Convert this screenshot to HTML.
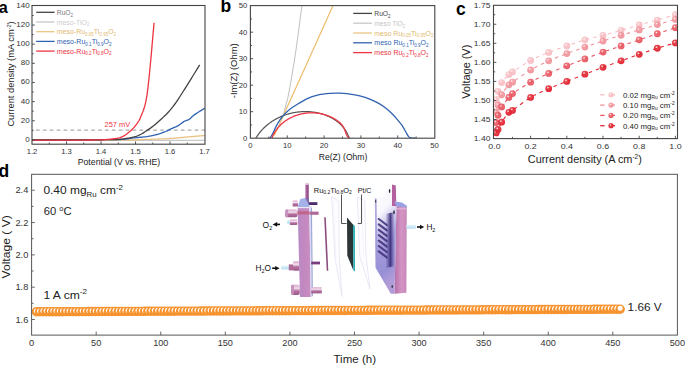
<!DOCTYPE html>
<html><head><meta charset="utf-8"><style>
html,body{margin:0;padding:0;background:#fff;width:685px;height:366px;overflow:hidden}
svg{display:block}
text{font-family:"Liberation Sans", sans-serif}
</style></head><body>
<svg width="685" height="366" viewBox="0 0 685 366">
<rect width="685" height="366" fill="#fff"/>
<text x="-1.2" y="12.8" font-size="16.2" fill="#000" text-anchor="start" font-weight="bold" >a</text>
<line x1="32" y1="130.1" x2="205" y2="130.1" stroke="#aaa" stroke-width="1.3" stroke-dasharray="3.6 3.3" stroke-dashoffset="2.9"/>
<path d="M32.00,140.30 L33.45,140.30 L34.91,140.30 L36.36,140.30 L37.82,140.30 L39.27,140.30 L40.72,140.30 L42.18,140.30 L43.63,140.30 L45.08,140.30 L46.54,140.30 L47.99,140.30 L49.45,140.30 L50.90,140.30 L52.35,140.30 L53.81,140.30 L55.26,140.30 L56.71,140.30 L58.17,140.30 L59.62,140.30 L61.08,140.30 L62.53,140.30 L63.98,140.30 L65.44,140.30 L66.89,140.30 L68.34,140.30 L69.80,140.30 L71.25,140.30 L72.71,140.30 L74.16,140.30 L75.61,140.30 L77.07,140.30 L78.52,140.30 L79.97,140.30 L81.43,140.30 L82.88,140.30 L84.34,140.30 L85.79,140.30 L87.24,140.30 L88.70,140.30 L90.15,140.30 L91.61,140.30 L93.06,140.30 L94.51,140.30 L95.97,140.30 L97.42,140.30 L98.87,140.30 L100.33,140.30 L101.78,140.30 L103.24,140.30 L104.69,140.30 L106.14,140.30 L107.60,140.30 L109.05,140.30 L110.50,140.30 L111.96,140.30 L113.41,140.30 L114.87,140.30 L116.32,140.30 L117.77,140.30 L119.23,140.30 L120.68,140.30 L122.13,140.30 L123.59,140.30 L125.04,140.30 L126.50,140.30 L127.95,140.30 L129.40,140.30 L130.86,140.30 L132.31,140.30 L133.76,140.30 L135.22,140.30 L136.67,140.30 L138.13,140.30 L139.58,140.30 L141.03,140.30 L142.49,140.30 L143.94,140.30 L145.39,140.30 L146.85,140.30 L148.30,140.30 L149.76,140.30 L151.21,140.30 L152.66,140.30 L154.12,140.30 L155.57,140.30 L157.03,140.30 L158.48,140.30 L159.93,140.30 L161.39,140.30 L162.84,140.30 L164.29,140.30 L165.75,140.30 L167.20,140.30 L168.66,140.30 L170.11,140.30 L171.56,140.30 L173.02,140.30 L174.47,140.30 L175.92,140.30 L177.38,140.30 L178.83,140.30 L180.29,140.30 L181.74,140.30 L183.19,140.30 L184.65,140.30 L186.10,140.30 L187.55,140.30 L189.01,140.30 L190.46,140.30 L191.92,140.30 L193.37,140.30 L194.82,140.30 L196.28,140.30 L197.73,140.30 L199.18,140.30 L200.64,140.30 L202.09,140.30 L203.55,140.30 L205.00,140.30" fill="none" stroke="#c8c8c8" stroke-width="1.3"/>
<path d="M32.00,140.20 L33.45,140.20 L34.90,140.20 L36.36,140.20 L37.81,140.20 L39.26,140.20 L40.71,140.20 L42.16,140.20 L43.62,140.20 L45.07,140.20 L46.52,140.20 L47.97,140.20 L49.43,140.20 L50.88,140.20 L52.33,140.20 L53.78,140.20 L55.23,140.20 L56.69,140.20 L58.14,140.20 L59.59,140.20 L61.04,140.20 L62.49,140.20 L63.95,140.19 L65.40,140.19 L66.85,140.19 L68.30,140.19 L69.75,140.19 L71.21,140.19 L72.66,140.19 L74.11,140.19 L75.56,140.19 L77.02,140.19 L78.47,140.19 L79.92,140.19 L81.37,140.18 L82.82,140.18 L84.28,140.18 L85.73,140.18 L87.18,140.18 L88.63,140.18 L90.08,140.18 L91.54,140.17 L92.99,140.17 L94.44,140.17 L95.89,140.17 L97.34,140.17 L98.80,140.16 L100.25,140.16 L101.70,140.16 L103.15,140.16 L104.61,140.16 L106.06,140.15 L107.51,140.15 L108.96,140.15 L110.41,140.15 L111.87,140.14 L113.32,140.14 L114.77,140.14 L116.22,140.13 L117.67,140.13 L119.13,140.13 L120.58,140.12 L122.03,140.12 L123.48,140.12 L124.93,140.11 L126.39,140.11 L127.84,140.11 L129.29,140.10 L130.74,140.08 L132.19,140.00 L133.65,139.89 L135.10,139.80 L136.55,139.73 L138.00,139.67 L139.46,139.61 L140.91,139.56 L142.36,139.51 L143.81,139.46 L145.26,139.42 L146.72,139.37 L148.17,139.33 L149.62,139.28 L151.07,139.24 L152.52,139.19 L153.98,139.14 L155.43,139.08 L156.88,139.03 L158.33,138.98 L159.78,138.93 L161.24,138.88 L162.69,138.83 L164.14,138.78 L165.59,138.72 L167.05,138.65 L168.50,138.58 L169.95,138.50 L171.40,138.41 L172.85,138.29 L174.31,138.15 L175.76,138.01 L177.21,137.87 L178.66,137.74 L180.11,137.62 L181.57,137.49 L183.02,137.37 L184.47,137.24 L185.92,137.11 L187.37,136.99 L188.83,136.86 L190.28,136.74 L191.73,136.61 L193.18,136.49 L194.64,136.36 L196.09,136.24 L197.54,136.12 L198.99,135.99 L200.44,135.87 L201.90,135.75 L203.35,135.62 L204.80,135.50" fill="none" stroke="#eac486" stroke-width="1.3"/>
<path d="M32.00,140.00 L33.45,140.00 L34.90,140.00 L36.36,140.00 L37.81,140.00 L39.26,140.00 L40.71,140.00 L42.16,140.00 L43.62,139.99 L45.07,139.99 L46.52,139.99 L47.97,139.99 L49.43,139.99 L50.88,139.98 L52.33,139.98 L53.78,139.98 L55.23,139.98 L56.69,139.97 L58.14,139.97 L59.59,139.97 L61.04,139.96 L62.49,139.96 L63.95,139.95 L65.40,139.95 L66.85,139.94 L68.30,139.94 L69.75,139.93 L71.21,139.92 L72.66,139.92 L74.11,139.91 L75.56,139.90 L77.02,139.90 L78.47,139.89 L79.92,139.88 L81.37,139.87 L82.82,139.86 L84.28,139.85 L85.73,139.84 L87.18,139.83 L88.63,139.82 L90.08,139.81 L91.54,139.80 L92.99,139.79 L94.44,139.78 L95.89,139.77 L97.34,139.75 L98.80,139.74 L100.25,139.73 L101.70,139.71 L103.15,139.70 L104.61,139.68 L106.06,139.67 L107.51,139.65 L108.96,139.64 L110.41,139.62 L111.87,139.60 L113.32,139.59 L114.77,139.57 L116.22,139.55 L117.67,139.53 L119.13,139.51 L120.58,139.49 L122.03,139.42 L123.48,139.31 L124.93,139.15 L126.39,138.98 L127.84,138.78 L129.29,138.57 L130.74,138.35 L132.19,138.15 L133.65,137.96 L135.10,137.79 L136.55,137.64 L138.00,137.51 L139.46,137.38 L140.91,137.25 L142.36,137.11 L143.81,136.95 L145.26,136.78 L146.72,136.59 L148.17,136.36 L149.62,136.11 L151.07,135.83 L152.52,135.53 L153.98,135.21 L155.43,134.87 L156.88,134.50 L158.33,134.11 L159.78,133.67 L161.24,133.18 L162.69,132.65 L164.14,132.09 L165.59,131.50 L167.05,130.82 L168.50,130.06 L169.95,129.32 L171.40,128.67 L172.85,128.07 L174.31,127.47 L175.76,126.85 L177.21,126.15 L178.66,125.33 L180.11,124.31 L181.57,123.21 L183.02,122.14 L184.47,121.21 L185.92,120.56 L187.37,120.13 L188.83,119.63 L190.28,118.60 L191.73,117.04 L193.18,115.66 L194.64,114.60 L196.09,113.66 L197.54,112.75 L198.99,111.82 L200.44,110.89 L201.90,109.98 L203.35,109.08 L204.80,108.20" fill="none" stroke="#2f62b0" stroke-width="1.3"/>
<path d="M32.00,140.00 L33.41,140.00 L34.82,140.00 L36.23,140.00 L37.64,140.00 L39.05,140.00 L40.46,140.00 L41.86,140.00 L43.27,140.00 L44.68,139.99 L46.09,139.99 L47.50,139.99 L48.91,139.99 L50.32,139.99 L51.73,139.99 L53.14,139.98 L54.55,139.98 L55.96,139.98 L57.37,139.97 L58.78,139.97 L60.18,139.97 L61.59,139.96 L63.00,139.96 L64.41,139.96 L65.82,139.95 L67.23,139.95 L68.64,139.94 L70.05,139.94 L71.46,139.93 L72.87,139.93 L74.28,139.92 L75.69,139.91 L77.10,139.91 L78.51,139.90 L79.91,139.89 L81.32,139.89 L82.73,139.88 L84.14,139.87 L85.55,139.86 L86.96,139.85 L88.37,139.84 L89.78,139.83 L91.19,139.82 L92.60,139.81 L94.01,139.80 L95.42,139.79 L96.83,139.78 L98.23,139.77 L99.64,139.76 L101.05,139.74 L102.46,139.73 L103.87,139.72 L105.28,139.71 L106.69,139.69 L108.10,139.68 L109.51,139.66 L110.92,139.65 L112.33,139.63 L113.74,139.61 L115.15,139.60 L116.55,139.55 L117.96,139.47 L119.37,139.36 L120.78,139.21 L122.19,139.04 L123.60,138.86 L125.01,138.66 L126.42,138.46 L127.83,138.25 L129.24,138.02 L130.65,137.76 L132.06,137.45 L133.47,137.11 L134.87,136.74 L136.28,136.29 L137.69,135.76 L139.10,135.16 L140.51,134.49 L141.92,133.74 L143.33,132.88 L144.74,131.96 L146.15,131.04 L147.56,130.11 L148.97,129.14 L150.38,128.15 L151.79,127.11 L153.19,126.03 L154.60,124.91 L156.01,123.75 L157.42,122.55 L158.83,121.31 L160.24,120.02 L161.65,118.71 L163.06,117.38 L164.47,116.05 L165.88,114.68 L167.29,113.25 L168.70,111.71 L170.11,110.08 L171.52,108.36 L172.92,106.58 L174.33,104.74 L175.74,102.81 L177.15,100.80 L178.56,98.70 L179.97,96.49 L181.38,94.25 L182.79,92.02 L184.20,89.80 L185.61,87.56 L187.02,85.32 L188.43,83.07 L189.84,80.82 L191.24,78.55 L192.65,76.28 L194.06,74.00 L195.47,71.72 L196.88,69.42 L198.29,67.11 L199.70,64.80" fill="none" stroke="#444" stroke-width="1.3"/>
<path d="M32.00,140.20 L33.03,140.20 L34.05,140.20 L35.08,140.20 L36.10,140.20 L37.13,140.20 L38.16,140.20 L39.18,140.20 L40.21,140.20 L41.23,140.20 L42.26,140.20 L43.29,140.19 L44.31,140.19 L45.34,140.19 L46.36,140.19 L47.39,140.19 L48.42,140.19 L49.44,140.19 L50.47,140.18 L51.49,140.18 L52.52,140.18 L53.55,140.18 L54.57,140.18 L55.60,140.17 L56.63,140.17 L57.65,140.17 L58.68,140.16 L59.70,140.16 L60.73,140.16 L61.76,140.15 L62.78,140.15 L63.81,140.15 L64.83,140.14 L65.86,140.14 L66.89,140.14 L67.91,140.13 L68.94,140.13 L69.96,140.12 L70.99,140.12 L72.02,140.11 L73.04,140.11 L74.07,140.10 L75.09,140.10 L76.12,140.09 L77.15,140.08 L78.17,140.08 L79.20,140.07 L80.22,140.07 L81.25,140.06 L82.28,140.05 L83.30,140.05 L84.33,140.04 L85.35,140.03 L86.38,140.02 L87.41,140.01 L88.43,140.01 L89.46,140.00 L90.48,139.99 L91.51,139.98 L92.54,139.97 L93.56,139.96 L94.59,139.95 L95.62,139.94 L96.64,139.93 L97.67,139.92 L98.69,139.91 L99.72,139.90 L100.75,139.89 L101.77,139.86 L102.80,139.81 L103.82,139.75 L104.85,139.69 L105.88,139.61 L106.90,139.52 L107.93,139.42 L108.95,139.32 L109.98,139.22 L111.01,139.11 L112.03,139.00 L113.06,138.88 L114.08,138.75 L115.11,138.60 L116.14,138.43 L117.16,138.25 L118.19,138.04 L119.21,137.80 L120.24,137.53 L121.27,137.17 L122.29,136.71 L123.32,136.17 L124.34,135.59 L125.37,134.97 L126.40,134.25 L127.42,133.44 L128.45,132.59 L129.47,131.74 L130.50,130.91 L131.53,130.04 L132.55,129.05 L133.58,127.94 L134.61,126.74 L135.63,125.45 L136.66,124.09 L137.68,122.65 L138.71,121.04 L139.74,119.14 L140.76,116.79 L141.79,114.32 L142.81,111.88 L143.84,109.08 L144.87,105.61 L145.89,101.31 L146.92,95.63 L147.94,87.81 L148.97,78.37 L150.00,68.04 L151.02,57.43 L152.05,45.64 L153.07,33.82 L154.10,22.70" fill="none" stroke="#ee3440" stroke-width="1.3"/>
<text x="104.6" y="127.3" font-size="7.4" fill="#ee3440" text-anchor="start" font-weight="normal" textLength="25.6" lengthAdjust="spacingAndGlyphs" >257 mV</text>
<rect x="32" y="5.5" width="173" height="138.7" fill="none" stroke="#444" stroke-width="1.1"/>
<line x1="32" y1="139.90" x2="34.8" y2="139.90" stroke="#444" stroke-width="0.9"/>
<line x1="32" y1="130.33" x2="33.7" y2="130.33" stroke="#444" stroke-width="0.9"/>
<line x1="32" y1="120.76" x2="34.8" y2="120.76" stroke="#444" stroke-width="0.9"/>
<line x1="32" y1="111.19" x2="33.7" y2="111.19" stroke="#444" stroke-width="0.9"/>
<line x1="32" y1="101.62" x2="34.8" y2="101.62" stroke="#444" stroke-width="0.9"/>
<line x1="32" y1="92.05" x2="33.7" y2="92.05" stroke="#444" stroke-width="0.9"/>
<line x1="32" y1="82.48" x2="34.8" y2="82.48" stroke="#444" stroke-width="0.9"/>
<line x1="32" y1="72.91" x2="33.7" y2="72.91" stroke="#444" stroke-width="0.9"/>
<line x1="32" y1="63.34" x2="34.8" y2="63.34" stroke="#444" stroke-width="0.9"/>
<line x1="32" y1="53.77" x2="33.7" y2="53.77" stroke="#444" stroke-width="0.9"/>
<line x1="32" y1="44.20" x2="34.8" y2="44.20" stroke="#444" stroke-width="0.9"/>
<line x1="32" y1="34.63" x2="33.7" y2="34.63" stroke="#444" stroke-width="0.9"/>
<line x1="32" y1="25.06" x2="34.8" y2="25.06" stroke="#444" stroke-width="0.9"/>
<line x1="32" y1="15.49" x2="33.7" y2="15.49" stroke="#444" stroke-width="0.9"/>
<text x="29.6" y="141.8" font-size="8" fill="#333" text-anchor="end" font-weight="normal" >0</text>
<text x="29.6" y="122.66000000000001" font-size="8" fill="#333" text-anchor="end" font-weight="normal" >20</text>
<text x="29.6" y="103.52000000000001" font-size="8" fill="#333" text-anchor="end" font-weight="normal" >40</text>
<text x="29.6" y="84.38000000000002" font-size="8" fill="#333" text-anchor="end" font-weight="normal" >60</text>
<text x="29.6" y="65.24000000000001" font-size="8" fill="#333" text-anchor="end" font-weight="normal" >80</text>
<text x="29.6" y="46.1" font-size="8" fill="#333" text-anchor="end" font-weight="normal" >100</text>
<text x="29.6" y="26.960000000000015" font-size="8" fill="#333" text-anchor="end" font-weight="normal" >120</text>
<text x="29.6" y="7.820000000000016" font-size="8" fill="#333" text-anchor="end" font-weight="normal" >140</text>
<line x1="49.25" y1="144.2" x2="49.25" y2="142.5" stroke="#444" stroke-width="0.9"/>
<line x1="66.50" y1="144.2" x2="66.50" y2="141.39999999999998" stroke="#444" stroke-width="0.9"/>
<line x1="83.75" y1="144.2" x2="83.75" y2="142.5" stroke="#444" stroke-width="0.9"/>
<line x1="101.00" y1="144.2" x2="101.00" y2="141.39999999999998" stroke="#444" stroke-width="0.9"/>
<line x1="118.25" y1="144.2" x2="118.25" y2="142.5" stroke="#444" stroke-width="0.9"/>
<line x1="135.50" y1="144.2" x2="135.50" y2="141.39999999999998" stroke="#444" stroke-width="0.9"/>
<line x1="152.75" y1="144.2" x2="152.75" y2="142.5" stroke="#444" stroke-width="0.9"/>
<line x1="170.00" y1="144.2" x2="170.00" y2="141.39999999999998" stroke="#444" stroke-width="0.9"/>
<line x1="187.25" y1="144.2" x2="187.25" y2="142.5" stroke="#444" stroke-width="0.9"/>
<text x="32.0" y="153.8" font-size="7.6" fill="#333" text-anchor="middle" font-weight="normal" textLength="10.6" lengthAdjust="spacingAndGlyphs" >1.2</text>
<text x="66.50000000000003" y="153.8" font-size="7.6" fill="#333" text-anchor="middle" font-weight="normal" textLength="10.6" lengthAdjust="spacingAndGlyphs" >1.3</text>
<text x="100.99999999999999" y="153.8" font-size="7.6" fill="#333" text-anchor="middle" font-weight="normal" textLength="10.6" lengthAdjust="spacingAndGlyphs" >1.4</text>
<text x="135.5" y="153.8" font-size="7.6" fill="#333" text-anchor="middle" font-weight="normal" textLength="10.6" lengthAdjust="spacingAndGlyphs" >1.5</text>
<text x="170.00000000000006" y="153.8" font-size="7.6" fill="#333" text-anchor="middle" font-weight="normal" textLength="10.6" lengthAdjust="spacingAndGlyphs" >1.6</text>
<text x="204.5" y="153.8" font-size="7.6" fill="#333" text-anchor="middle" font-weight="normal" textLength="10.6" lengthAdjust="spacingAndGlyphs" >1.7</text>
<text x="77.7" y="164.7" font-size="9.2" fill="#222" text-anchor="start" font-weight="normal" textLength="82.5" lengthAdjust="spacingAndGlyphs" >Potential (V vs. RHE)</text>
<g transform="translate(14.2,126.6) rotate(-90)"><text x="0" y="0" font-size="9.7" fill="#222" text-anchor="start" font-weight="normal" textLength="105.3" lengthAdjust="spacingAndGlyphs" >Current density (mA cm<tspan dy="-3.5" font-size="5.8">-2</tspan><tspan dy="3.5">)</tspan></text></g>
<line x1="36.2" y1="12.30" x2="54.6" y2="12.30" stroke="#444" stroke-width="1.3"/>
<text x="56.8" y="14.8" font-size="7.4" fill="#7a7a7a" text-anchor="start" font-weight="normal" textLength="16.3" lengthAdjust="spacingAndGlyphs" >RuO<tspan dy="1.8" font-size="5">2</tspan></text>
<line x1="36.2" y1="22.00" x2="54.6" y2="22.00" stroke="#c8c8c8" stroke-width="1.3"/>
<text x="56.8" y="24.5" font-size="7.4" fill="#cdcdcd" text-anchor="start" font-weight="normal" textLength="32.6" lengthAdjust="spacingAndGlyphs" >meso-TiO<tspan dy="1.8" font-size="5">2</tspan></text>
<line x1="36.2" y1="31.70" x2="54.6" y2="31.70" stroke="#eac486" stroke-width="1.3"/>
<text x="56.8" y="34.2" font-size="7.4" fill="#e2b96f" text-anchor="start" font-weight="normal" textLength="59.3" lengthAdjust="spacingAndGlyphs" >meso-Ru<tspan dy="1.8" font-size="4.8">0.05</tspan><tspan dy="-1.8">Ti</tspan><tspan dy="1.8" font-size="4.8">0.95</tspan><tspan dy="-1.8">O</tspan><tspan dy="1.8" font-size="4.8">2</tspan></text>
<line x1="36.2" y1="41.40" x2="54.6" y2="41.40" stroke="#2f62b0" stroke-width="1.3"/>
<text x="56.8" y="43.9" font-size="7.4" fill="#2f62b0" text-anchor="start" font-weight="normal" textLength="54.8" lengthAdjust="spacingAndGlyphs" >meso-Ru<tspan dy="1.8" font-size="4.8">0.1</tspan><tspan dy="-1.8">Ti</tspan><tspan dy="1.8" font-size="4.8">0.9</tspan><tspan dy="-1.8">O</tspan><tspan dy="1.8" font-size="4.8">2</tspan></text>
<line x1="36.2" y1="51.10" x2="54.6" y2="51.10" stroke="#ee3440" stroke-width="1.3"/>
<text x="56.8" y="53.599999999999994" font-size="7.4" fill="#ee3440" text-anchor="start" font-weight="normal" textLength="54.8" lengthAdjust="spacingAndGlyphs" >meso-Ru<tspan dy="1.8" font-size="4.8">0.2</tspan><tspan dy="-1.8">Ti</tspan><tspan dy="1.8" font-size="4.8">0.8</tspan><tspan dy="-1.8">O</tspan><tspan dy="1.8" font-size="4.8">2</tspan></text>
<text x="220.5" y="12.3" font-size="17.5" fill="#000" text-anchor="start" font-weight="bold" >b</text>
<defs><clipPath id="cb"><rect x="250.4" y="5.6" width="184.4" height="132.6"/></clipPath></defs>
<g clip-path="url(#cb)">
<path d="M283.50,115.30 C283.90,113.58 285.08,108.38 285.90,105.00 C286.72,101.62 287.38,100.00 288.40,95.00 C289.42,90.00 290.73,82.50 292.00,75.00 C293.27,67.50 294.33,61.67 296.00,50.00 C297.67,38.33 301.00,12.50 302.00,5.00" fill="none" stroke="#c4c4c4" stroke-width="1.1"/>
<path d="M274.2,135.6 C275.5,132.5 276.3,130.8 277.3,129.4 L283.5,115.3 L333.3,5" fill="none" stroke="#efbc6c" stroke-width="1.2"/>
<path d="M255.80,138.30 L256.20,137.64 L256.61,136.98 L257.03,136.33 L257.45,135.69 L257.89,135.05 L258.34,134.42 L258.79,133.81 L259.25,133.19 L259.73,132.59 L260.21,132.00 L260.70,131.41 L261.19,130.83 L261.70,130.26 L262.21,129.69 L262.74,129.14 L263.27,128.59 L263.80,128.05 L264.35,127.52 L264.90,127.00 L265.46,126.48 L266.03,125.98 L266.60,125.48 L267.19,124.99 L267.77,124.51 L268.37,124.03 L268.97,123.57 L269.58,123.11 L270.19,122.66 L270.82,122.22 L271.44,121.79 L272.08,121.37 L272.71,120.96 L273.36,120.55 L274.01,120.15 L274.67,119.77 L275.33,119.39 L275.99,119.01 L276.67,118.65 L277.34,118.30 L278.02,117.95 L278.71,117.62 L279.40,117.29 L280.10,116.97 L280.80,116.66 L281.50,116.36 L282.21,116.07 L282.92,115.78 L283.64,115.51 L284.36,115.25 L285.08,114.99 L285.81,114.74 L286.54,114.50 L287.27,114.28 L288.01,114.06 L288.75,113.84 L289.49,113.64 L290.24,113.45 L290.98,113.27 L291.73,113.09 L292.49,112.93 L293.24,112.77 L294.00,112.63 L294.76,112.49 L295.52,112.36 L296.28,112.25 L297.05,112.14 L297.81,112.04 L298.58,111.95 L299.35,111.87 L300.12,111.80 L300.89,111.74 L301.66,111.69 L302.43,111.65 L303.20,111.62 L303.98,111.59 L304.75,111.58 L305.52,111.58 L306.30,111.59 L307.07,111.60 L307.85,111.63 L308.62,111.67 L309.39,111.71 L310.17,111.77 L310.94,111.84 L311.71,111.91 L312.48,112.00 L313.25,112.10 L314.02,112.20 L314.78,112.32 L315.55,112.45 L316.31,112.58 L317.07,112.73 L317.83,112.89 L318.59,113.06 L319.34,113.23 L320.09,113.42 L320.83,113.62 L321.58,113.83 L322.32,114.04 L323.05,114.27 L323.78,114.51 L324.51,114.76 L325.23,115.02 L325.95,115.29 L326.66,115.57 L327.36,115.86 L328.06,116.16 L328.76,116.47 L329.45,116.79 L330.13,117.12 L330.80,117.46 L331.47,117.81 L332.13,118.18 L332.79,118.55 L333.43,118.93 L334.07,119.33 L334.70,119.73 L335.32,120.15 L335.94,120.57 L336.54,121.01 L337.14,121.45 L337.72,121.91 L338.30,122.38 L338.87,122.86 L339.43,123.35 L339.97,123.85 L340.51,124.36 L341.04,124.88 L341.55,125.41 L342.06,125.95 L342.55,126.50 L343.03,127.07 L343.50,127.64 L343.96,128.22 L344.40,128.82 L344.84,129.43 L345.26,130.04 L345.66,130.67 L346.06,131.31 L346.44,131.96 L346.81,132.62 L347.16,133.29 L347.50,133.97 L347.82,134.67 L348.13,135.37 L348.43,136.09 L348.71,136.81 L348.97,137.55 L349.22,138.30" fill="none" stroke="#555" stroke-width="1.2"/>
<path d="M269.90,138.30 C270.15,137.92 270.88,136.87 271.40,136.00 C271.92,135.13 272.22,134.70 273.00,133.10 C273.78,131.50 274.97,128.55 276.10,126.40 C277.23,124.25 278.57,122.05 279.80,120.20 C281.03,118.35 282.07,116.93 283.50,115.30 C284.93,113.67 286.48,111.98 288.40,110.40 C290.32,108.82 291.95,107.73 295.00,105.80 C298.05,103.87 302.80,100.62 306.70,98.80 C310.60,96.98 314.52,95.80 318.40,94.90 C322.28,94.00 326.40,93.68 330.00,93.40 C333.60,93.12 336.10,93.00 340.00,93.20 C343.90,93.40 349.22,93.92 353.40,94.60 C357.58,95.28 361.27,96.03 365.10,97.30 C368.93,98.57 373.08,100.50 376.40,102.20 C379.72,103.90 382.30,105.50 385.00,107.50 C387.70,109.50 390.43,112.07 392.60,114.20 C394.77,116.33 396.45,118.47 398.00,120.30 C399.55,122.13 400.80,123.62 401.90,125.20 C403.00,126.78 403.82,128.43 404.60,129.80 C405.38,131.17 405.93,132.27 406.60,133.40 C407.27,134.53 407.87,135.83 408.60,136.60 C409.33,137.37 409.77,137.72 411.00,138.00 C412.23,138.28 415.17,138.25 416.00,138.30" fill="none" stroke="#2f62b0" stroke-width="1.3"/>
<path d="M271.80,138.30 L272.06,137.64 L272.32,136.99 L272.60,136.35 L272.89,135.72 L273.19,135.09 L273.50,134.47 L273.82,133.86 L274.15,133.26 L274.49,132.66 L274.84,132.08 L275.20,131.50 L275.57,130.93 L275.95,130.37 L276.34,129.82 L276.74,129.28 L277.15,128.74 L277.57,128.21 L278.00,127.70 L278.43,127.18 L278.88,126.68 L279.33,126.19 L279.79,125.71 L280.26,125.23 L280.74,124.76 L281.22,124.30 L281.72,123.85 L282.22,123.41 L282.73,122.98 L283.24,122.55 L283.76,122.14 L284.29,121.73 L284.83,121.33 L285.37,120.94 L285.92,120.56 L286.48,120.19 L287.04,119.83 L287.60,119.48 L288.18,119.13 L288.76,118.79 L289.34,118.47 L289.93,118.15 L290.53,117.84 L291.13,117.54 L291.73,117.25 L292.34,116.97 L292.96,116.69 L293.57,116.43 L294.20,116.17 L294.83,115.93 L295.46,115.69 L296.09,115.47 L296.73,115.25 L297.37,115.04 L298.02,114.84 L298.67,114.65 L299.32,114.47 L299.98,114.30 L300.63,114.13 L301.29,113.98 L301.96,113.84 L302.62,113.70 L303.29,113.58 L303.96,113.46 L304.63,113.36 L305.30,113.26 L305.98,113.17 L306.65,113.10 L307.33,113.03 L308.01,112.97 L308.69,112.92 L309.37,112.88 L310.05,112.85 L310.73,112.83 L311.41,112.82 L312.09,112.82 L312.77,112.83 L313.45,112.85 L314.13,112.88 L314.81,112.92 L315.49,112.97 L316.17,113.03 L316.85,113.10 L317.53,113.17 L318.20,113.26 L318.87,113.36 L319.55,113.47 L320.22,113.59 L320.89,113.72 L321.55,113.85 L322.22,114.00 L322.88,114.16 L323.54,114.33 L324.20,114.51 L324.85,114.69 L325.50,114.89 L326.15,115.10 L326.79,115.32 L327.43,115.54 L328.07,115.78 L328.70,116.03 L329.33,116.28 L329.95,116.55 L330.57,116.83 L331.18,117.11 L331.79,117.41 L332.39,117.72 L332.99,118.03 L333.59,118.36 L334.17,118.69 L334.75,119.04 L335.33,119.39 L335.90,119.76 L336.46,120.13 L337.02,120.52 L337.57,120.91 L338.11,121.32 L338.64,121.74 L339.16,122.17 L339.67,122.61 L340.16,123.06 L340.64,123.53 L341.11,124.02 L341.56,124.52 L341.99,125.03 L342.40,125.56 L342.79,126.11 L343.16,126.68 L343.51,127.27 L343.84,127.87 L344.14,128.49 L344.42,129.13 L344.68,129.79 L344.93,130.45 L345.17,131.11 L345.41,131.77 L345.64,132.43 L345.88,133.08 L346.12,133.72 L346.38,134.33 L346.65,134.93 L346.94,135.49 L347.26,136.03 L347.60,136.52 L347.98,136.98 L348.39,137.39 L348.84,137.76 L349.34,138.07 L349.89,138.32 L350.50,138.50" fill="none" stroke="#ee3440" stroke-width="1.3"/>
</g>
<rect x="250.4" y="5.6" width="184.4" height="132.6" fill="none" stroke="#444" stroke-width="1.1"/>
<line x1="250.4" y1="124.95" x2="252.1" y2="124.95" stroke="#444" stroke-width="0.9"/>
<line x1="268.82" y1="138.2" x2="268.82" y2="136.5" stroke="#444" stroke-width="0.9"/>
<line x1="250.4" y1="111.70" x2="253.20000000000002" y2="111.70" stroke="#444" stroke-width="0.9"/>
<line x1="287.24" y1="138.2" x2="287.24" y2="135.39999999999998" stroke="#444" stroke-width="0.9"/>
<line x1="250.4" y1="98.45" x2="252.1" y2="98.45" stroke="#444" stroke-width="0.9"/>
<line x1="305.66" y1="138.2" x2="305.66" y2="136.5" stroke="#444" stroke-width="0.9"/>
<line x1="250.4" y1="85.20" x2="253.20000000000002" y2="85.20" stroke="#444" stroke-width="0.9"/>
<line x1="324.08" y1="138.2" x2="324.08" y2="135.39999999999998" stroke="#444" stroke-width="0.9"/>
<line x1="250.4" y1="71.95" x2="252.1" y2="71.95" stroke="#444" stroke-width="0.9"/>
<line x1="342.50" y1="138.2" x2="342.50" y2="136.5" stroke="#444" stroke-width="0.9"/>
<line x1="250.4" y1="58.70" x2="253.20000000000002" y2="58.70" stroke="#444" stroke-width="0.9"/>
<line x1="360.92" y1="138.2" x2="360.92" y2="135.39999999999998" stroke="#444" stroke-width="0.9"/>
<line x1="250.4" y1="45.45" x2="252.1" y2="45.45" stroke="#444" stroke-width="0.9"/>
<line x1="379.34" y1="138.2" x2="379.34" y2="136.5" stroke="#444" stroke-width="0.9"/>
<line x1="250.4" y1="32.20" x2="253.20000000000002" y2="32.20" stroke="#444" stroke-width="0.9"/>
<line x1="397.76" y1="138.2" x2="397.76" y2="135.39999999999998" stroke="#444" stroke-width="0.9"/>
<line x1="250.4" y1="18.95" x2="252.1" y2="18.95" stroke="#444" stroke-width="0.9"/>
<line x1="416.18" y1="138.2" x2="416.18" y2="136.5" stroke="#444" stroke-width="0.9"/>
<text x="247.3" y="140.79999999999998" font-size="7.7" fill="#333" text-anchor="end" font-weight="normal" >0</text>
<text x="250.4" y="148.2" font-size="7.7" fill="#333" text-anchor="middle" font-weight="normal" >0</text>
<text x="247.3" y="114.29999999999998" font-size="7.7" fill="#333" text-anchor="end" font-weight="normal" >10</text>
<text x="287.24" y="148.2" font-size="7.7" fill="#333" text-anchor="middle" font-weight="normal" >10</text>
<text x="247.3" y="87.79999999999998" font-size="7.7" fill="#333" text-anchor="end" font-weight="normal" >20</text>
<text x="324.08000000000004" y="148.2" font-size="7.7" fill="#333" text-anchor="middle" font-weight="normal" >20</text>
<text x="247.3" y="61.29999999999999" font-size="7.7" fill="#333" text-anchor="end" font-weight="normal" >30</text>
<text x="360.92" y="148.2" font-size="7.7" fill="#333" text-anchor="middle" font-weight="normal" >30</text>
<text x="247.3" y="34.79999999999999" font-size="7.7" fill="#333" text-anchor="end" font-weight="normal" >40</text>
<text x="397.76" y="148.2" font-size="7.7" fill="#333" text-anchor="middle" font-weight="normal" >40</text>
<text x="247.3" y="8.299999999999988" font-size="7.7" fill="#333" text-anchor="end" font-weight="normal" >50</text>
<text x="434.6" y="148.2" font-size="7.7" fill="#333" text-anchor="middle" font-weight="normal" >50</text>
<text x="318.8" y="159.7" font-size="9.2" fill="#222" text-anchor="start" font-weight="normal" textLength="48.5" lengthAdjust="spacingAndGlyphs" >Re(Z) (Ohm)</text>
<g transform="translate(237.4,98.2) rotate(-90)"><text x="0" y="0" font-size="9.6" fill="#222" text-anchor="start" font-weight="normal" textLength="54.8" lengthAdjust="spacingAndGlyphs" >-Im(Z) (Ohm)</text></g>
<line x1="353.2" y1="13.40" x2="372" y2="13.40" stroke="#444" stroke-width="1.3"/>
<text x="374.3" y="15.9" font-size="7.4" fill="#444" text-anchor="start" font-weight="normal" textLength="16.3" lengthAdjust="spacingAndGlyphs" >RuO<tspan dy="1.8" font-size="5">2</tspan></text>
<line x1="353.2" y1="23.20" x2="372" y2="23.20" stroke="#c8c8c8" stroke-width="1.3"/>
<text x="374.3" y="25.700000000000003" font-size="7.4" fill="#c4c4c4" text-anchor="start" font-weight="normal" textLength="31" lengthAdjust="spacingAndGlyphs" >meso TiO<tspan dy="1.8" font-size="5">2</tspan></text>
<line x1="353.2" y1="33.00" x2="372" y2="33.00" stroke="#eac486" stroke-width="1.3"/>
<text x="374.3" y="35.5" font-size="7.4" fill="#e2b96f" text-anchor="start" font-weight="normal" textLength="59.2" lengthAdjust="spacingAndGlyphs" >meso Ru<tspan dy="1.8" font-size="4.8">0.05</tspan><tspan dy="-1.8">Ti</tspan><tspan dy="1.8" font-size="4.8">0.95</tspan><tspan dy="-1.8">O</tspan><tspan dy="1.8" font-size="4.8">2</tspan></text>
<line x1="353.2" y1="42.80" x2="372" y2="42.80" stroke="#2f62b0" stroke-width="1.3"/>
<text x="374.3" y="45.300000000000004" font-size="7.4" fill="#2f62b0" text-anchor="start" font-weight="normal" textLength="54.3" lengthAdjust="spacingAndGlyphs" >meso Ru<tspan dy="1.8" font-size="4.8">0.1</tspan><tspan dy="-1.8">Ti</tspan><tspan dy="1.8" font-size="4.8">0.9</tspan><tspan dy="-1.8">O</tspan><tspan dy="1.8" font-size="4.8">2</tspan></text>
<line x1="353.2" y1="52.60" x2="372" y2="52.60" stroke="#ee3440" stroke-width="1.3"/>
<text x="374.3" y="55.1" font-size="7.4" fill="#ee3440" text-anchor="start" font-weight="normal" textLength="54.3" lengthAdjust="spacingAndGlyphs" >meso Ru<tspan dy="1.8" font-size="4.8">0.2</tspan><tspan dy="-1.8">Ti</tspan><tspan dy="1.8" font-size="4.8">0.8</tspan><tspan dy="-1.8">O</tspan><tspan dy="1.8" font-size="4.8">2</tspan></text>
<text x="456" y="15" font-size="17.5" fill="#000" text-anchor="start" font-weight="bold" >c</text>
<defs>
<radialGradient id="g002" cx="0.38" cy="0.35" r="0.65"><stop offset="0" stop-color="#fff"/><stop offset="0.3" stop-color="#f7bfc4" stop-opacity="0.85"/><stop offset="1" stop-color="#f7bfc4"/></radialGradient>
<radialGradient id="g010" cx="0.38" cy="0.35" r="0.65"><stop offset="0" stop-color="#fff"/><stop offset="0.3" stop-color="#f1959c" stop-opacity="0.85"/><stop offset="1" stop-color="#f1959c"/></radialGradient>
<radialGradient id="g020" cx="0.38" cy="0.35" r="0.65"><stop offset="0" stop-color="#fff"/><stop offset="0.3" stop-color="#e95a64" stop-opacity="0.85"/><stop offset="1" stop-color="#e95a64"/></radialGradient>
<radialGradient id="g040" cx="0.38" cy="0.35" r="0.65"><stop offset="0" stop-color="#fff"/><stop offset="0.3" stop-color="#e22834" stop-opacity="0.85"/><stop offset="1" stop-color="#e22834"/></radialGradient>
<clipPath id="cc"><rect x="493.5" y="5.3" width="184" height="133.3"/></clipPath>
</defs>
<g clip-path="url(#cc)">
<path d="M496.21,99.72 C496.51,98.32 497.12,94.19 498.02,91.33 C498.92,88.47 499.83,85.36 501.64,82.56 C503.45,79.77 507.07,76.34 508.88,74.56 C510.69,72.78 508.88,74.24 512.50,71.89 C516.12,69.54 524.57,63.69 530.60,60.45 C536.63,57.21 542.67,54.86 548.70,52.45 C554.73,50.03 560.77,48.06 566.80,45.97 C572.83,43.87 578.87,41.65 584.90,39.87 C590.93,38.09 596.97,36.88 603.00,35.29 C609.03,33.71 615.07,32.05 621.10,30.34 C627.13,28.62 633.17,26.72 639.20,25.00 C645.23,23.29 651.27,21.76 657.30,20.05 C663.33,18.33 672.38,15.60 675.40,14.71" fill="none" stroke="#f7bfc4" stroke-width="1.1" stroke-dasharray="3.6 4"/>
<path d="M496.21,111.92 C496.51,110.77 497.12,107.91 498.02,105.05 C498.92,102.20 499.83,98.13 501.64,94.76 C503.45,91.39 507.07,86.95 508.88,84.85 C510.69,82.75 508.88,84.66 512.50,82.18 C516.12,79.70 524.57,73.54 530.60,69.98 C536.63,66.43 542.67,63.57 548.70,60.84 C554.73,58.10 560.77,55.88 566.80,53.59 C572.83,51.31 578.87,49.21 584.90,47.11 C590.93,45.02 596.97,42.98 603.00,41.01 C609.03,39.04 615.07,37.14 621.10,35.29 C627.13,33.45 633.17,31.74 639.20,29.96 C645.23,28.18 651.27,26.37 657.30,24.62 C663.33,22.87 672.38,20.33 675.40,19.47" fill="none" stroke="#f1959c" stroke-width="1.1" stroke-dasharray="3.6 4"/>
<path d="M496.21,122.59 C496.51,121.38 497.12,117.95 498.02,115.35 C498.92,112.74 499.83,109.95 501.64,106.96 C503.45,103.97 507.07,99.65 508.88,97.43 C510.69,95.21 508.88,96.16 512.50,93.62 C516.12,91.08 524.57,85.55 530.60,82.18 C536.63,78.82 542.67,76.15 548.70,73.41 C554.73,70.68 560.77,68.21 566.80,65.79 C572.83,63.38 578.87,61.22 584.90,58.93 C590.93,56.64 596.97,54.23 603.00,52.07 C609.03,49.91 615.07,48.00 621.10,45.97 C627.13,43.94 633.17,41.90 639.20,39.87 C645.23,37.84 651.27,35.80 657.30,33.77 C663.33,31.74 672.38,28.69 675.40,27.67" fill="none" stroke="#e95a64" stroke-width="1.1" stroke-dasharray="3.6 4"/>
<path d="M496.21,132.88 C496.51,132.31 497.12,131.23 498.02,129.45 C498.92,127.67 499.83,125.07 501.64,122.21 C503.45,119.35 507.07,114.27 508.88,112.30 C510.69,110.33 508.88,112.87 512.50,110.39 C516.12,107.91 524.57,101.05 530.60,97.43 C536.63,93.81 542.67,91.33 548.70,88.66 C554.73,85.99 560.77,83.83 566.80,81.42 C572.83,79.01 578.87,76.53 584.90,74.18 C590.93,71.83 596.97,69.54 603.00,67.32 C609.03,65.09 615.07,63.00 621.10,60.84 C627.13,58.68 633.17,56.45 639.20,54.35 C645.23,52.26 651.27,50.16 657.30,48.26 C663.33,46.35 672.38,43.81 675.40,42.92" fill="none" stroke="#e22834" stroke-width="1.1" stroke-dasharray="3.6 4"/>
<circle cx="496.21" cy="99.72" r="3.4" fill="url(#g002)"/>
<circle cx="498.02" cy="91.33" r="3.4" fill="url(#g002)"/>
<circle cx="501.64" cy="82.56" r="3.4" fill="url(#g002)"/>
<circle cx="508.88" cy="74.56" r="3.4" fill="url(#g002)"/>
<circle cx="512.50" cy="71.89" r="3.4" fill="url(#g002)"/>
<circle cx="530.60" cy="60.45" r="3.4" fill="url(#g002)"/>
<circle cx="548.70" cy="52.45" r="3.4" fill="url(#g002)"/>
<circle cx="566.80" cy="45.97" r="3.4" fill="url(#g002)"/>
<circle cx="584.90" cy="39.87" r="3.4" fill="url(#g002)"/>
<circle cx="603.00" cy="35.29" r="3.4" fill="url(#g002)"/>
<circle cx="621.10" cy="30.34" r="3.4" fill="url(#g002)"/>
<circle cx="639.20" cy="25.00" r="3.4" fill="url(#g002)"/>
<circle cx="657.30" cy="20.05" r="3.4" fill="url(#g002)"/>
<circle cx="675.40" cy="14.71" r="3.4" fill="url(#g002)"/>
<circle cx="496.21" cy="111.92" r="3.4" fill="url(#g010)"/>
<circle cx="498.02" cy="105.05" r="3.4" fill="url(#g010)"/>
<circle cx="501.64" cy="94.76" r="3.4" fill="url(#g010)"/>
<circle cx="508.88" cy="84.85" r="3.4" fill="url(#g010)"/>
<circle cx="512.50" cy="82.18" r="3.4" fill="url(#g010)"/>
<circle cx="530.60" cy="69.98" r="3.4" fill="url(#g010)"/>
<circle cx="548.70" cy="60.84" r="3.4" fill="url(#g010)"/>
<circle cx="566.80" cy="53.59" r="3.4" fill="url(#g010)"/>
<circle cx="584.90" cy="47.11" r="3.4" fill="url(#g010)"/>
<circle cx="603.00" cy="41.01" r="3.4" fill="url(#g010)"/>
<circle cx="621.10" cy="35.29" r="3.4" fill="url(#g010)"/>
<circle cx="639.20" cy="29.96" r="3.4" fill="url(#g010)"/>
<circle cx="657.30" cy="24.62" r="3.4" fill="url(#g010)"/>
<circle cx="675.40" cy="19.47" r="3.4" fill="url(#g010)"/>
<circle cx="496.21" cy="122.59" r="3.4" fill="url(#g020)"/>
<circle cx="498.02" cy="115.35" r="3.4" fill="url(#g020)"/>
<circle cx="501.64" cy="106.96" r="3.4" fill="url(#g020)"/>
<circle cx="508.88" cy="97.43" r="3.4" fill="url(#g020)"/>
<circle cx="512.50" cy="93.62" r="3.4" fill="url(#g020)"/>
<circle cx="530.60" cy="82.18" r="3.4" fill="url(#g020)"/>
<circle cx="548.70" cy="73.41" r="3.4" fill="url(#g020)"/>
<circle cx="566.80" cy="65.79" r="3.4" fill="url(#g020)"/>
<circle cx="584.90" cy="58.93" r="3.4" fill="url(#g020)"/>
<circle cx="603.00" cy="52.07" r="3.4" fill="url(#g020)"/>
<circle cx="621.10" cy="45.97" r="3.4" fill="url(#g020)"/>
<circle cx="639.20" cy="39.87" r="3.4" fill="url(#g020)"/>
<circle cx="657.30" cy="33.77" r="3.4" fill="url(#g020)"/>
<circle cx="675.40" cy="27.67" r="3.4" fill="url(#g020)"/>
<circle cx="496.21" cy="132.88" r="3.4" fill="url(#g040)"/>
<circle cx="498.02" cy="129.45" r="3.4" fill="url(#g040)"/>
<circle cx="501.64" cy="122.21" r="3.4" fill="url(#g040)"/>
<circle cx="508.88" cy="112.30" r="3.4" fill="url(#g040)"/>
<circle cx="512.50" cy="110.39" r="3.4" fill="url(#g040)"/>
<circle cx="530.60" cy="97.43" r="3.4" fill="url(#g040)"/>
<circle cx="548.70" cy="88.66" r="3.4" fill="url(#g040)"/>
<circle cx="566.80" cy="81.42" r="3.4" fill="url(#g040)"/>
<circle cx="584.90" cy="74.18" r="3.4" fill="url(#g040)"/>
<circle cx="603.00" cy="67.32" r="3.4" fill="url(#g040)"/>
<circle cx="621.10" cy="60.84" r="3.4" fill="url(#g040)"/>
<circle cx="639.20" cy="54.35" r="3.4" fill="url(#g040)"/>
<circle cx="657.30" cy="48.26" r="3.4" fill="url(#g040)"/>
<circle cx="675.40" cy="42.92" r="3.4" fill="url(#g040)"/>
</g>
<rect x="493.5" y="5.3" width="184.0" height="133.29999999999998" fill="none" stroke="#444" stroke-width="1.1"/>
<line x1="493.5" y1="129.07" x2="495.2" y2="129.07" stroke="#444" stroke-width="0.9"/>
<line x1="493.5" y1="119.54" x2="496.3" y2="119.54" stroke="#444" stroke-width="0.9"/>
<line x1="493.5" y1="110.01" x2="495.2" y2="110.01" stroke="#444" stroke-width="0.9"/>
<line x1="493.5" y1="100.48" x2="496.3" y2="100.48" stroke="#444" stroke-width="0.9"/>
<line x1="493.5" y1="90.95" x2="495.2" y2="90.95" stroke="#444" stroke-width="0.9"/>
<line x1="493.5" y1="81.42" x2="496.3" y2="81.42" stroke="#444" stroke-width="0.9"/>
<line x1="493.5" y1="71.89" x2="495.2" y2="71.89" stroke="#444" stroke-width="0.9"/>
<line x1="493.5" y1="62.36" x2="496.3" y2="62.36" stroke="#444" stroke-width="0.9"/>
<line x1="493.5" y1="52.83" x2="495.2" y2="52.83" stroke="#444" stroke-width="0.9"/>
<line x1="493.5" y1="43.30" x2="496.3" y2="43.30" stroke="#444" stroke-width="0.9"/>
<line x1="493.5" y1="33.77" x2="495.2" y2="33.77" stroke="#444" stroke-width="0.9"/>
<line x1="493.5" y1="24.24" x2="496.3" y2="24.24" stroke="#444" stroke-width="0.9"/>
<line x1="493.5" y1="14.71" x2="495.2" y2="14.71" stroke="#444" stroke-width="0.9"/>
<text x="490.4" y="140.95" font-size="8" fill="#333" text-anchor="end" font-weight="normal" textLength="16.6" lengthAdjust="spacingAndGlyphs" >1.40</text>
<text x="490.4" y="121.88999999999997" font-size="8" fill="#333" text-anchor="end" font-weight="normal" textLength="16.6" lengthAdjust="spacingAndGlyphs" >1.45</text>
<text x="490.4" y="102.82999999999996" font-size="8" fill="#333" text-anchor="end" font-weight="normal" textLength="16.6" lengthAdjust="spacingAndGlyphs" >1.50</text>
<text x="490.4" y="83.77000000000002" font-size="8" fill="#333" text-anchor="end" font-weight="normal" textLength="16.6" lengthAdjust="spacingAndGlyphs" >1.55</text>
<text x="490.4" y="64.71000000000001" font-size="8" fill="#333" text-anchor="end" font-weight="normal" textLength="16.6" lengthAdjust="spacingAndGlyphs" >1.60</text>
<text x="490.4" y="45.65" font-size="8" fill="#333" text-anchor="end" font-weight="normal" textLength="16.6" lengthAdjust="spacingAndGlyphs" >1.65</text>
<text x="490.4" y="26.589999999999982" font-size="8" fill="#333" text-anchor="end" font-weight="normal" textLength="16.6" lengthAdjust="spacingAndGlyphs" >1.70</text>
<text x="490.4" y="7.529999999999978" font-size="8" fill="#333" text-anchor="end" font-weight="normal" textLength="16.6" lengthAdjust="spacingAndGlyphs" >1.75</text>
<line x1="512.50" y1="138.6" x2="512.50" y2="136.9" stroke="#444" stroke-width="0.9"/>
<line x1="530.60" y1="138.6" x2="530.60" y2="135.79999999999998" stroke="#444" stroke-width="0.9"/>
<line x1="548.70" y1="138.6" x2="548.70" y2="136.9" stroke="#444" stroke-width="0.9"/>
<line x1="566.80" y1="138.6" x2="566.80" y2="135.79999999999998" stroke="#444" stroke-width="0.9"/>
<line x1="584.90" y1="138.6" x2="584.90" y2="136.9" stroke="#444" stroke-width="0.9"/>
<line x1="603.00" y1="138.6" x2="603.00" y2="135.79999999999998" stroke="#444" stroke-width="0.9"/>
<line x1="621.10" y1="138.6" x2="621.10" y2="136.9" stroke="#444" stroke-width="0.9"/>
<line x1="639.20" y1="138.6" x2="639.20" y2="135.79999999999998" stroke="#444" stroke-width="0.9"/>
<line x1="657.30" y1="138.6" x2="657.30" y2="136.9" stroke="#444" stroke-width="0.9"/>
<line x1="675.40" y1="138.6" x2="675.40" y2="135.79999999999998" stroke="#444" stroke-width="0.9"/>
<text x="494.4" y="148.5" font-size="7.7" fill="#333" text-anchor="middle" font-weight="normal" textLength="12.3" lengthAdjust="spacingAndGlyphs" >0.0</text>
<text x="530.6" y="148.5" font-size="7.7" fill="#333" text-anchor="middle" font-weight="normal" textLength="12.3" lengthAdjust="spacingAndGlyphs" >0.2</text>
<text x="566.8" y="148.5" font-size="7.7" fill="#333" text-anchor="middle" font-weight="normal" textLength="12.3" lengthAdjust="spacingAndGlyphs" >0.4</text>
<text x="603.0" y="148.5" font-size="7.7" fill="#333" text-anchor="middle" font-weight="normal" textLength="12.3" lengthAdjust="spacingAndGlyphs" >0.6</text>
<text x="639.2" y="148.5" font-size="7.7" fill="#333" text-anchor="middle" font-weight="normal" textLength="12.3" lengthAdjust="spacingAndGlyphs" >0.8</text>
<text x="675.4" y="148.5" font-size="7.7" fill="#333" text-anchor="middle" font-weight="normal" textLength="12.3" lengthAdjust="spacingAndGlyphs" >1.0</text>
<text x="527.8" y="162.8" font-size="10.8" fill="#222" text-anchor="start" font-weight="normal" textLength="114" lengthAdjust="spacingAndGlyphs" >Current density (A cm<tspan dy="-3.8" font-size="6.4">-2</tspan><tspan dy="3.8">)</tspan></text>
<g transform="translate(469.8,98.7) rotate(-90)"><text x="0" y="0" font-size="10" fill="#222" text-anchor="start" font-weight="normal" textLength="54" lengthAdjust="spacingAndGlyphs" >Voltage (V)</text></g>
<line x1="600.2" y1="94.80" x2="604.6" y2="94.80" stroke="#f7bfc4" stroke-width="1.3"/>
<line x1="612" y1="94.80" x2="615" y2="94.80" stroke="#f7bfc4" stroke-width="1.3"/>
<circle cx="611" cy="94.80" r="2.6" fill="url(#g002)"/>
<text x="623" y="97.6" font-size="7.8" fill="#222" text-anchor="start" font-weight="normal" textLength="51.6" lengthAdjust="spacingAndGlyphs" >0.02 mg<tspan dy="1.7" font-size="4.8">Ru</tspan><tspan dy="-1.7"> cm</tspan><tspan dy="-2.8" font-size="4.8">-2</tspan></text>
<line x1="600.2" y1="105.10" x2="604.6" y2="105.10" stroke="#f1959c" stroke-width="1.3"/>
<line x1="612" y1="105.10" x2="615" y2="105.10" stroke="#f1959c" stroke-width="1.3"/>
<circle cx="611" cy="105.10" r="2.6" fill="url(#g010)"/>
<text x="623" y="107.89999999999999" font-size="7.8" fill="#222" text-anchor="start" font-weight="normal" textLength="51.6" lengthAdjust="spacingAndGlyphs" >0.10 mg<tspan dy="1.7" font-size="4.8">Ru</tspan><tspan dy="-1.7"> cm</tspan><tspan dy="-2.8" font-size="4.8">-2</tspan></text>
<line x1="600.2" y1="115.40" x2="604.6" y2="115.40" stroke="#e95a64" stroke-width="1.3"/>
<line x1="612" y1="115.40" x2="615" y2="115.40" stroke="#e95a64" stroke-width="1.3"/>
<circle cx="611" cy="115.40" r="2.6" fill="url(#g020)"/>
<text x="623" y="118.2" font-size="7.8" fill="#222" text-anchor="start" font-weight="normal" textLength="51.6" lengthAdjust="spacingAndGlyphs" >0.20 mg<tspan dy="1.7" font-size="4.8">Ru</tspan><tspan dy="-1.7"> cm</tspan><tspan dy="-2.8" font-size="4.8">-2</tspan></text>
<line x1="600.2" y1="125.70" x2="604.6" y2="125.70" stroke="#e22834" stroke-width="1.3"/>
<line x1="612" y1="125.70" x2="615" y2="125.70" stroke="#e22834" stroke-width="1.3"/>
<circle cx="611" cy="125.70" r="2.6" fill="url(#g040)"/>
<text x="623" y="128.5" font-size="7.8" fill="#222" text-anchor="start" font-weight="normal" textLength="51.6" lengthAdjust="spacingAndGlyphs" >0.40 mg<tspan dy="1.7" font-size="4.8">Ru</tspan><tspan dy="-1.7"> cm</tspan><tspan dy="-2.8" font-size="4.8">-2</tspan></text>
<text x="-1.5" y="176.7" font-size="17.5" fill="#000" text-anchor="start" font-weight="bold" >d</text>
<g><circle cx="36.30" cy="311.80" r="4.7" fill="#f7932e"/><circle cx="36.30" cy="310.90" r="2.5" fill="#fff"/><circle cx="39.58" cy="311.79" r="4.7" fill="#f7932e"/><circle cx="39.58" cy="310.89" r="2.5" fill="#fff"/><circle cx="42.86" cy="311.77" r="4.7" fill="#f7932e"/><circle cx="42.86" cy="310.87" r="2.5" fill="#fff"/><circle cx="46.14" cy="311.76" r="4.7" fill="#f7932e"/><circle cx="46.14" cy="310.86" r="2.5" fill="#fff"/><circle cx="49.42" cy="311.74" r="4.7" fill="#f7932e"/><circle cx="49.42" cy="310.84" r="2.5" fill="#fff"/><circle cx="52.70" cy="311.73" r="4.7" fill="#f7932e"/><circle cx="52.70" cy="310.83" r="2.5" fill="#fff"/><circle cx="55.98" cy="311.71" r="4.7" fill="#f7932e"/><circle cx="55.98" cy="310.81" r="2.5" fill="#fff"/><circle cx="59.26" cy="311.70" r="4.7" fill="#f7932e"/><circle cx="59.26" cy="310.80" r="2.5" fill="#fff"/><circle cx="62.54" cy="311.68" r="4.7" fill="#f7932e"/><circle cx="62.54" cy="310.78" r="2.5" fill="#fff"/><circle cx="65.82" cy="311.67" r="4.7" fill="#f7932e"/><circle cx="65.82" cy="310.77" r="2.5" fill="#fff"/><circle cx="69.10" cy="311.65" r="4.7" fill="#f7932e"/><circle cx="69.10" cy="310.75" r="2.5" fill="#fff"/><circle cx="72.38" cy="311.64" r="4.7" fill="#f7932e"/><circle cx="72.38" cy="310.74" r="2.5" fill="#fff"/><circle cx="75.66" cy="311.62" r="4.7" fill="#f7932e"/><circle cx="75.66" cy="310.72" r="2.5" fill="#fff"/><circle cx="78.94" cy="311.61" r="4.7" fill="#f7932e"/><circle cx="78.94" cy="310.71" r="2.5" fill="#fff"/><circle cx="82.22" cy="311.60" r="4.7" fill="#f7932e"/><circle cx="82.22" cy="310.70" r="2.5" fill="#fff"/><circle cx="85.50" cy="311.58" r="4.7" fill="#f7932e"/><circle cx="85.50" cy="310.68" r="2.5" fill="#fff"/><circle cx="88.78" cy="311.57" r="4.7" fill="#f7932e"/><circle cx="88.78" cy="310.67" r="2.5" fill="#fff"/><circle cx="92.06" cy="311.55" r="4.7" fill="#f7932e"/><circle cx="92.06" cy="310.65" r="2.5" fill="#fff"/><circle cx="95.34" cy="311.54" r="4.7" fill="#f7932e"/><circle cx="95.34" cy="310.64" r="2.5" fill="#fff"/><circle cx="98.62" cy="311.52" r="4.7" fill="#f7932e"/><circle cx="98.62" cy="310.62" r="2.5" fill="#fff"/><circle cx="101.90" cy="311.51" r="4.7" fill="#f7932e"/><circle cx="101.90" cy="310.61" r="2.5" fill="#fff"/><circle cx="105.18" cy="311.49" r="4.7" fill="#f7932e"/><circle cx="105.18" cy="310.59" r="2.5" fill="#fff"/><circle cx="108.46" cy="311.48" r="4.7" fill="#f7932e"/><circle cx="108.46" cy="310.58" r="2.5" fill="#fff"/><circle cx="111.74" cy="311.46" r="4.7" fill="#f7932e"/><circle cx="111.74" cy="310.56" r="2.5" fill="#fff"/><circle cx="115.02" cy="311.45" r="4.7" fill="#f7932e"/><circle cx="115.02" cy="310.55" r="2.5" fill="#fff"/><circle cx="118.30" cy="311.43" r="4.7" fill="#f7932e"/><circle cx="118.30" cy="310.53" r="2.5" fill="#fff"/><circle cx="121.58" cy="311.42" r="4.7" fill="#f7932e"/><circle cx="121.58" cy="310.52" r="2.5" fill="#fff"/><circle cx="124.86" cy="311.41" r="4.7" fill="#f7932e"/><circle cx="124.86" cy="310.51" r="2.5" fill="#fff"/><circle cx="128.14" cy="311.39" r="4.7" fill="#f7932e"/><circle cx="128.14" cy="310.49" r="2.5" fill="#fff"/><circle cx="131.42" cy="311.38" r="4.7" fill="#f7932e"/><circle cx="131.42" cy="310.48" r="2.5" fill="#fff"/><circle cx="134.70" cy="311.36" r="4.7" fill="#f7932e"/><circle cx="134.70" cy="310.46" r="2.5" fill="#fff"/><circle cx="137.98" cy="311.35" r="4.7" fill="#f7932e"/><circle cx="137.98" cy="310.45" r="2.5" fill="#fff"/><circle cx="141.26" cy="311.33" r="4.7" fill="#f7932e"/><circle cx="141.26" cy="310.43" r="2.5" fill="#fff"/><circle cx="144.54" cy="311.32" r="4.7" fill="#f7932e"/><circle cx="144.54" cy="310.42" r="2.5" fill="#fff"/><circle cx="147.82" cy="311.30" r="4.7" fill="#f7932e"/><circle cx="147.82" cy="310.40" r="2.5" fill="#fff"/><circle cx="151.10" cy="311.29" r="4.7" fill="#f7932e"/><circle cx="151.10" cy="310.39" r="2.5" fill="#fff"/><circle cx="154.38" cy="311.27" r="4.7" fill="#f7932e"/><circle cx="154.38" cy="310.37" r="2.5" fill="#fff"/><circle cx="157.66" cy="311.26" r="4.7" fill="#f7932e"/><circle cx="157.66" cy="310.36" r="2.5" fill="#fff"/><circle cx="160.94" cy="311.25" r="4.7" fill="#f7932e"/><circle cx="160.94" cy="310.35" r="2.5" fill="#fff"/><circle cx="164.22" cy="311.23" r="4.7" fill="#f7932e"/><circle cx="164.22" cy="310.33" r="2.5" fill="#fff"/><circle cx="167.50" cy="311.22" r="4.7" fill="#f7932e"/><circle cx="167.50" cy="310.32" r="2.5" fill="#fff"/><circle cx="170.78" cy="311.20" r="4.7" fill="#f7932e"/><circle cx="170.78" cy="310.30" r="2.5" fill="#fff"/><circle cx="174.06" cy="311.19" r="4.7" fill="#f7932e"/><circle cx="174.06" cy="310.29" r="2.5" fill="#fff"/><circle cx="177.34" cy="311.17" r="4.7" fill="#f7932e"/><circle cx="177.34" cy="310.27" r="2.5" fill="#fff"/><circle cx="180.62" cy="311.16" r="4.7" fill="#f7932e"/><circle cx="180.62" cy="310.26" r="2.5" fill="#fff"/><circle cx="183.90" cy="311.14" r="4.7" fill="#f7932e"/><circle cx="183.90" cy="310.24" r="2.5" fill="#fff"/><circle cx="187.18" cy="311.13" r="4.7" fill="#f7932e"/><circle cx="187.18" cy="310.23" r="2.5" fill="#fff"/><circle cx="190.46" cy="311.11" r="4.7" fill="#f7932e"/><circle cx="190.46" cy="310.21" r="2.5" fill="#fff"/><circle cx="193.74" cy="311.10" r="4.7" fill="#f7932e"/><circle cx="193.74" cy="310.20" r="2.5" fill="#fff"/><circle cx="197.02" cy="311.08" r="4.7" fill="#f7932e"/><circle cx="197.02" cy="310.18" r="2.5" fill="#fff"/><circle cx="200.30" cy="311.07" r="4.7" fill="#f7932e"/><circle cx="200.30" cy="310.17" r="2.5" fill="#fff"/><circle cx="203.58" cy="311.06" r="4.7" fill="#f7932e"/><circle cx="203.58" cy="310.16" r="2.5" fill="#fff"/><circle cx="206.86" cy="311.04" r="4.7" fill="#f7932e"/><circle cx="206.86" cy="310.14" r="2.5" fill="#fff"/><circle cx="210.14" cy="311.03" r="4.7" fill="#f7932e"/><circle cx="210.14" cy="310.13" r="2.5" fill="#fff"/><circle cx="213.42" cy="311.01" r="4.7" fill="#f7932e"/><circle cx="213.42" cy="310.11" r="2.5" fill="#fff"/><circle cx="216.70" cy="311.00" r="4.7" fill="#f7932e"/><circle cx="216.70" cy="310.10" r="2.5" fill="#fff"/><circle cx="219.98" cy="310.98" r="4.7" fill="#f7932e"/><circle cx="219.98" cy="310.08" r="2.5" fill="#fff"/><circle cx="223.26" cy="310.97" r="4.7" fill="#f7932e"/><circle cx="223.26" cy="310.07" r="2.5" fill="#fff"/><circle cx="226.54" cy="310.95" r="4.7" fill="#f7932e"/><circle cx="226.54" cy="310.05" r="2.5" fill="#fff"/><circle cx="229.82" cy="310.94" r="4.7" fill="#f7932e"/><circle cx="229.82" cy="310.04" r="2.5" fill="#fff"/><circle cx="233.10" cy="310.92" r="4.7" fill="#f7932e"/><circle cx="233.10" cy="310.02" r="2.5" fill="#fff"/><circle cx="236.38" cy="310.91" r="4.7" fill="#f7932e"/><circle cx="236.38" cy="310.01" r="2.5" fill="#fff"/><circle cx="239.66" cy="310.89" r="4.7" fill="#f7932e"/><circle cx="239.66" cy="309.99" r="2.5" fill="#fff"/><circle cx="242.94" cy="310.88" r="4.7" fill="#f7932e"/><circle cx="242.94" cy="309.98" r="2.5" fill="#fff"/><circle cx="246.22" cy="310.87" r="4.7" fill="#f7932e"/><circle cx="246.22" cy="309.97" r="2.5" fill="#fff"/><circle cx="249.50" cy="310.85" r="4.7" fill="#f7932e"/><circle cx="249.50" cy="309.95" r="2.5" fill="#fff"/><circle cx="252.78" cy="310.84" r="4.7" fill="#f7932e"/><circle cx="252.78" cy="309.94" r="2.5" fill="#fff"/><circle cx="256.06" cy="310.82" r="4.7" fill="#f7932e"/><circle cx="256.06" cy="309.92" r="2.5" fill="#fff"/><circle cx="259.34" cy="310.81" r="4.7" fill="#f7932e"/><circle cx="259.34" cy="309.91" r="2.5" fill="#fff"/><circle cx="262.62" cy="310.79" r="4.7" fill="#f7932e"/><circle cx="262.62" cy="309.89" r="2.5" fill="#fff"/><circle cx="265.90" cy="310.78" r="4.7" fill="#f7932e"/><circle cx="265.90" cy="309.88" r="2.5" fill="#fff"/><circle cx="269.18" cy="310.76" r="4.7" fill="#f7932e"/><circle cx="269.18" cy="309.86" r="2.5" fill="#fff"/><circle cx="272.46" cy="310.75" r="4.7" fill="#f7932e"/><circle cx="272.46" cy="309.85" r="2.5" fill="#fff"/><circle cx="275.74" cy="310.73" r="4.7" fill="#f7932e"/><circle cx="275.74" cy="309.83" r="2.5" fill="#fff"/><circle cx="279.02" cy="310.72" r="4.7" fill="#f7932e"/><circle cx="279.02" cy="309.82" r="2.5" fill="#fff"/><circle cx="282.30" cy="310.70" r="4.7" fill="#f7932e"/><circle cx="282.30" cy="309.80" r="2.5" fill="#fff"/><circle cx="285.58" cy="310.69" r="4.7" fill="#f7932e"/><circle cx="285.58" cy="309.79" r="2.5" fill="#fff"/><circle cx="288.86" cy="310.68" r="4.7" fill="#f7932e"/><circle cx="288.86" cy="309.78" r="2.5" fill="#fff"/><circle cx="292.14" cy="310.66" r="4.7" fill="#f7932e"/><circle cx="292.14" cy="309.76" r="2.5" fill="#fff"/><circle cx="295.42" cy="310.65" r="4.7" fill="#f7932e"/><circle cx="295.42" cy="309.75" r="2.5" fill="#fff"/><circle cx="298.70" cy="310.63" r="4.7" fill="#f7932e"/><circle cx="298.70" cy="309.73" r="2.5" fill="#fff"/><circle cx="301.98" cy="310.62" r="4.7" fill="#f7932e"/><circle cx="301.98" cy="309.72" r="2.5" fill="#fff"/><circle cx="305.26" cy="310.60" r="4.7" fill="#f7932e"/><circle cx="305.26" cy="309.70" r="2.5" fill="#fff"/><circle cx="308.54" cy="310.59" r="4.7" fill="#f7932e"/><circle cx="308.54" cy="309.69" r="2.5" fill="#fff"/><circle cx="311.82" cy="310.57" r="4.7" fill="#f7932e"/><circle cx="311.82" cy="309.67" r="2.5" fill="#fff"/><circle cx="315.10" cy="310.56" r="4.7" fill="#f7932e"/><circle cx="315.10" cy="309.66" r="2.5" fill="#fff"/><circle cx="318.38" cy="310.54" r="4.7" fill="#f7932e"/><circle cx="318.38" cy="309.64" r="2.5" fill="#fff"/><circle cx="321.66" cy="310.53" r="4.7" fill="#f7932e"/><circle cx="321.66" cy="309.63" r="2.5" fill="#fff"/><circle cx="324.94" cy="310.51" r="4.7" fill="#f7932e"/><circle cx="324.94" cy="309.61" r="2.5" fill="#fff"/><circle cx="328.22" cy="310.50" r="4.7" fill="#f7932e"/><circle cx="328.22" cy="309.60" r="2.5" fill="#fff"/><circle cx="331.50" cy="310.49" r="4.7" fill="#f7932e"/><circle cx="331.50" cy="309.59" r="2.5" fill="#fff"/><circle cx="334.78" cy="310.47" r="4.7" fill="#f7932e"/><circle cx="334.78" cy="309.57" r="2.5" fill="#fff"/><circle cx="338.06" cy="310.46" r="4.7" fill="#f7932e"/><circle cx="338.06" cy="309.56" r="2.5" fill="#fff"/><circle cx="341.34" cy="310.44" r="4.7" fill="#f7932e"/><circle cx="341.34" cy="309.54" r="2.5" fill="#fff"/><circle cx="344.62" cy="310.43" r="4.7" fill="#f7932e"/><circle cx="344.62" cy="309.53" r="2.5" fill="#fff"/><circle cx="347.90" cy="310.41" r="4.7" fill="#f7932e"/><circle cx="347.90" cy="309.51" r="2.5" fill="#fff"/><circle cx="351.18" cy="310.40" r="4.7" fill="#f7932e"/><circle cx="351.18" cy="309.50" r="2.5" fill="#fff"/><circle cx="354.46" cy="310.38" r="4.7" fill="#f7932e"/><circle cx="354.46" cy="309.48" r="2.5" fill="#fff"/><circle cx="357.74" cy="310.37" r="4.7" fill="#f7932e"/><circle cx="357.74" cy="309.47" r="2.5" fill="#fff"/><circle cx="361.02" cy="310.35" r="4.7" fill="#f7932e"/><circle cx="361.02" cy="309.45" r="2.5" fill="#fff"/><circle cx="364.30" cy="310.34" r="4.7" fill="#f7932e"/><circle cx="364.30" cy="309.44" r="2.5" fill="#fff"/><circle cx="367.58" cy="310.32" r="4.7" fill="#f7932e"/><circle cx="367.58" cy="309.42" r="2.5" fill="#fff"/><circle cx="370.86" cy="310.31" r="4.7" fill="#f7932e"/><circle cx="370.86" cy="309.41" r="2.5" fill="#fff"/><circle cx="374.14" cy="310.30" r="4.7" fill="#f7932e"/><circle cx="374.14" cy="309.40" r="2.5" fill="#fff"/><circle cx="377.42" cy="310.28" r="4.7" fill="#f7932e"/><circle cx="377.42" cy="309.38" r="2.5" fill="#fff"/><circle cx="380.70" cy="310.27" r="4.7" fill="#f7932e"/><circle cx="380.70" cy="309.37" r="2.5" fill="#fff"/><circle cx="383.98" cy="310.25" r="4.7" fill="#f7932e"/><circle cx="383.98" cy="309.35" r="2.5" fill="#fff"/><circle cx="387.26" cy="310.24" r="4.7" fill="#f7932e"/><circle cx="387.26" cy="309.34" r="2.5" fill="#fff"/><circle cx="390.54" cy="310.22" r="4.7" fill="#f7932e"/><circle cx="390.54" cy="309.32" r="2.5" fill="#fff"/><circle cx="393.82" cy="310.21" r="4.7" fill="#f7932e"/><circle cx="393.82" cy="309.31" r="2.5" fill="#fff"/><circle cx="397.10" cy="310.19" r="4.7" fill="#f7932e"/><circle cx="397.10" cy="309.29" r="2.5" fill="#fff"/><circle cx="400.38" cy="310.18" r="4.7" fill="#f7932e"/><circle cx="400.38" cy="309.28" r="2.5" fill="#fff"/><circle cx="403.66" cy="310.16" r="4.7" fill="#f7932e"/><circle cx="403.66" cy="309.26" r="2.5" fill="#fff"/><circle cx="406.94" cy="310.15" r="4.7" fill="#f7932e"/><circle cx="406.94" cy="309.25" r="2.5" fill="#fff"/><circle cx="410.22" cy="310.14" r="4.7" fill="#f7932e"/><circle cx="410.22" cy="309.24" r="2.5" fill="#fff"/><circle cx="413.50" cy="310.12" r="4.7" fill="#f7932e"/><circle cx="413.50" cy="309.22" r="2.5" fill="#fff"/><circle cx="416.78" cy="310.11" r="4.7" fill="#f7932e"/><circle cx="416.78" cy="309.21" r="2.5" fill="#fff"/><circle cx="420.06" cy="310.09" r="4.7" fill="#f7932e"/><circle cx="420.06" cy="309.19" r="2.5" fill="#fff"/><circle cx="423.34" cy="310.08" r="4.7" fill="#f7932e"/><circle cx="423.34" cy="309.18" r="2.5" fill="#fff"/><circle cx="426.62" cy="310.06" r="4.7" fill="#f7932e"/><circle cx="426.62" cy="309.16" r="2.5" fill="#fff"/><circle cx="429.90" cy="310.05" r="4.7" fill="#f7932e"/><circle cx="429.90" cy="309.15" r="2.5" fill="#fff"/><circle cx="433.18" cy="310.03" r="4.7" fill="#f7932e"/><circle cx="433.18" cy="309.13" r="2.5" fill="#fff"/><circle cx="436.46" cy="310.02" r="4.7" fill="#f7932e"/><circle cx="436.46" cy="309.12" r="2.5" fill="#fff"/><circle cx="439.74" cy="310.00" r="4.7" fill="#f7932e"/><circle cx="439.74" cy="309.10" r="2.5" fill="#fff"/><circle cx="443.02" cy="309.99" r="4.7" fill="#f7932e"/><circle cx="443.02" cy="309.09" r="2.5" fill="#fff"/><circle cx="446.30" cy="309.97" r="4.7" fill="#f7932e"/><circle cx="446.30" cy="309.07" r="2.5" fill="#fff"/><circle cx="449.58" cy="309.96" r="4.7" fill="#f7932e"/><circle cx="449.58" cy="309.06" r="2.5" fill="#fff"/><circle cx="452.86" cy="309.95" r="4.7" fill="#f7932e"/><circle cx="452.86" cy="309.05" r="2.5" fill="#fff"/><circle cx="456.14" cy="309.93" r="4.7" fill="#f7932e"/><circle cx="456.14" cy="309.03" r="2.5" fill="#fff"/><circle cx="459.42" cy="309.92" r="4.7" fill="#f7932e"/><circle cx="459.42" cy="309.02" r="2.5" fill="#fff"/><circle cx="462.70" cy="309.90" r="4.7" fill="#f7932e"/><circle cx="462.70" cy="309.00" r="2.5" fill="#fff"/><circle cx="465.98" cy="309.89" r="4.7" fill="#f7932e"/><circle cx="465.98" cy="308.99" r="2.5" fill="#fff"/><circle cx="469.26" cy="309.87" r="4.7" fill="#f7932e"/><circle cx="469.26" cy="308.97" r="2.5" fill="#fff"/><circle cx="472.54" cy="309.86" r="4.7" fill="#f7932e"/><circle cx="472.54" cy="308.96" r="2.5" fill="#fff"/><circle cx="475.82" cy="309.84" r="4.7" fill="#f7932e"/><circle cx="475.82" cy="308.94" r="2.5" fill="#fff"/><circle cx="479.10" cy="309.83" r="4.7" fill="#f7932e"/><circle cx="479.10" cy="308.93" r="2.5" fill="#fff"/><circle cx="482.38" cy="309.81" r="4.7" fill="#f7932e"/><circle cx="482.38" cy="308.91" r="2.5" fill="#fff"/><circle cx="485.66" cy="309.80" r="4.7" fill="#f7932e"/><circle cx="485.66" cy="308.90" r="2.5" fill="#fff"/><circle cx="488.94" cy="309.78" r="4.7" fill="#f7932e"/><circle cx="488.94" cy="308.88" r="2.5" fill="#fff"/><circle cx="492.22" cy="309.77" r="4.7" fill="#f7932e"/><circle cx="492.22" cy="308.87" r="2.5" fill="#fff"/><circle cx="495.50" cy="309.76" r="4.7" fill="#f7932e"/><circle cx="495.50" cy="308.86" r="2.5" fill="#fff"/><circle cx="498.78" cy="309.74" r="4.7" fill="#f7932e"/><circle cx="498.78" cy="308.84" r="2.5" fill="#fff"/><circle cx="502.06" cy="309.73" r="4.7" fill="#f7932e"/><circle cx="502.06" cy="308.83" r="2.5" fill="#fff"/><circle cx="505.34" cy="309.71" r="4.7" fill="#f7932e"/><circle cx="505.34" cy="308.81" r="2.5" fill="#fff"/><circle cx="508.62" cy="309.70" r="4.7" fill="#f7932e"/><circle cx="508.62" cy="308.80" r="2.5" fill="#fff"/><circle cx="511.90" cy="309.68" r="4.7" fill="#f7932e"/><circle cx="511.90" cy="308.78" r="2.5" fill="#fff"/><circle cx="515.18" cy="309.67" r="4.7" fill="#f7932e"/><circle cx="515.18" cy="308.77" r="2.5" fill="#fff"/><circle cx="518.46" cy="309.65" r="4.7" fill="#f7932e"/><circle cx="518.46" cy="308.75" r="2.5" fill="#fff"/><circle cx="521.74" cy="309.64" r="4.7" fill="#f7932e"/><circle cx="521.74" cy="308.74" r="2.5" fill="#fff"/><circle cx="525.02" cy="309.62" r="4.7" fill="#f7932e"/><circle cx="525.02" cy="308.72" r="2.5" fill="#fff"/><circle cx="528.30" cy="309.61" r="4.7" fill="#f7932e"/><circle cx="528.30" cy="308.71" r="2.5" fill="#fff"/><circle cx="531.58" cy="309.59" r="4.7" fill="#f7932e"/><circle cx="531.58" cy="308.69" r="2.5" fill="#fff"/><circle cx="534.86" cy="309.58" r="4.7" fill="#f7932e"/><circle cx="534.86" cy="308.68" r="2.5" fill="#fff"/><circle cx="538.14" cy="309.57" r="4.7" fill="#f7932e"/><circle cx="538.14" cy="308.67" r="2.5" fill="#fff"/><circle cx="541.42" cy="309.55" r="4.7" fill="#f7932e"/><circle cx="541.42" cy="308.65" r="2.5" fill="#fff"/><circle cx="544.70" cy="309.54" r="4.7" fill="#f7932e"/><circle cx="544.70" cy="308.64" r="2.5" fill="#fff"/><circle cx="547.98" cy="309.52" r="4.7" fill="#f7932e"/><circle cx="547.98" cy="308.62" r="2.5" fill="#fff"/><circle cx="551.26" cy="309.51" r="4.7" fill="#f7932e"/><circle cx="551.26" cy="308.61" r="2.5" fill="#fff"/><circle cx="554.54" cy="309.49" r="4.7" fill="#f7932e"/><circle cx="554.54" cy="308.59" r="2.5" fill="#fff"/><circle cx="557.82" cy="309.48" r="4.7" fill="#f7932e"/><circle cx="557.82" cy="308.58" r="2.5" fill="#fff"/><circle cx="561.10" cy="309.46" r="4.7" fill="#f7932e"/><circle cx="561.10" cy="308.56" r="2.5" fill="#fff"/><circle cx="564.38" cy="309.45" r="4.7" fill="#f7932e"/><circle cx="564.38" cy="308.55" r="2.5" fill="#fff"/><circle cx="567.66" cy="309.43" r="4.7" fill="#f7932e"/><circle cx="567.66" cy="308.53" r="2.5" fill="#fff"/><circle cx="570.94" cy="309.42" r="4.7" fill="#f7932e"/><circle cx="570.94" cy="308.52" r="2.5" fill="#fff"/><circle cx="574.22" cy="309.40" r="4.7" fill="#f7932e"/><circle cx="574.22" cy="308.50" r="2.5" fill="#fff"/><circle cx="577.50" cy="309.39" r="4.7" fill="#f7932e"/><circle cx="577.50" cy="308.49" r="2.5" fill="#fff"/><circle cx="580.78" cy="309.38" r="4.7" fill="#f7932e"/><circle cx="580.78" cy="308.48" r="2.5" fill="#fff"/><circle cx="584.06" cy="309.36" r="4.7" fill="#f7932e"/><circle cx="584.06" cy="308.46" r="2.5" fill="#fff"/><circle cx="587.34" cy="309.35" r="4.7" fill="#f7932e"/><circle cx="587.34" cy="308.45" r="2.5" fill="#fff"/><circle cx="590.62" cy="309.33" r="4.7" fill="#f7932e"/><circle cx="590.62" cy="308.43" r="2.5" fill="#fff"/><circle cx="593.90" cy="309.32" r="4.7" fill="#f7932e"/><circle cx="593.90" cy="308.42" r="2.5" fill="#fff"/><circle cx="597.18" cy="309.30" r="4.7" fill="#f7932e"/><circle cx="597.18" cy="308.40" r="2.5" fill="#fff"/><circle cx="600.46" cy="309.29" r="4.7" fill="#f7932e"/><circle cx="600.46" cy="308.39" r="2.5" fill="#fff"/><circle cx="603.74" cy="309.27" r="4.7" fill="#f7932e"/><circle cx="603.74" cy="308.37" r="2.5" fill="#fff"/><circle cx="607.02" cy="309.26" r="4.7" fill="#f7932e"/><circle cx="607.02" cy="308.36" r="2.5" fill="#fff"/><circle cx="610.30" cy="309.24" r="4.7" fill="#f7932e"/><circle cx="610.30" cy="308.34" r="2.5" fill="#fff"/><circle cx="613.58" cy="309.23" r="4.7" fill="#f7932e"/><circle cx="613.58" cy="308.33" r="2.5" fill="#fff"/><circle cx="616.86" cy="309.21" r="4.7" fill="#f7932e"/><circle cx="616.86" cy="308.31" r="2.5" fill="#fff"/><circle cx="620.14" cy="309.20" r="4.7" fill="#f7932e"/><circle cx="620.14" cy="308.30" r="2.5" fill="#fff"/></g>
<rect x="31.6" y="174.3" width="645.8" height="160.8" fill="none" stroke="#555" stroke-width="1.0"/>
<line x1="31.6" y1="319.50" x2="34.800000000000004" y2="319.50" stroke="#555" stroke-width="0.9"/>
<line x1="31.6" y1="303.34" x2="33.6" y2="303.34" stroke="#555" stroke-width="0.9"/>
<line x1="31.6" y1="287.18" x2="34.800000000000004" y2="287.18" stroke="#555" stroke-width="0.9"/>
<line x1="31.6" y1="271.02" x2="33.6" y2="271.02" stroke="#555" stroke-width="0.9"/>
<line x1="31.6" y1="254.86" x2="34.800000000000004" y2="254.86" stroke="#555" stroke-width="0.9"/>
<line x1="31.6" y1="238.70" x2="33.6" y2="238.70" stroke="#555" stroke-width="0.9"/>
<line x1="31.6" y1="222.54" x2="34.800000000000004" y2="222.54" stroke="#555" stroke-width="0.9"/>
<line x1="31.6" y1="206.38" x2="33.6" y2="206.38" stroke="#555" stroke-width="0.9"/>
<line x1="31.6" y1="190.22" x2="34.800000000000004" y2="190.22" stroke="#555" stroke-width="0.9"/>
<text x="28.3" y="322.6" font-size="9" fill="#333" text-anchor="end" font-weight="normal" textLength="12.9" lengthAdjust="spacingAndGlyphs" >1.6</text>
<text x="28.3" y="290.28000000000003" font-size="9" fill="#333" text-anchor="end" font-weight="normal" textLength="12.9" lengthAdjust="spacingAndGlyphs" >1.8</text>
<text x="28.3" y="257.96000000000004" font-size="9" fill="#333" text-anchor="end" font-weight="normal" textLength="12.9" lengthAdjust="spacingAndGlyphs" >2.0</text>
<text x="28.3" y="225.64" font-size="9" fill="#333" text-anchor="end" font-weight="normal" textLength="12.9" lengthAdjust="spacingAndGlyphs" >2.2</text>
<text x="28.3" y="193.32000000000002" font-size="9" fill="#333" text-anchor="end" font-weight="normal" textLength="12.9" lengthAdjust="spacingAndGlyphs" >2.4</text>
<line x1="96.18" y1="335.1" x2="96.18" y2="331.6" stroke="#555" stroke-width="0.9"/>
<line x1="160.76" y1="335.1" x2="160.76" y2="331.6" stroke="#555" stroke-width="0.9"/>
<line x1="225.34" y1="335.1" x2="225.34" y2="331.6" stroke="#555" stroke-width="0.9"/>
<line x1="289.92" y1="335.1" x2="289.92" y2="331.6" stroke="#555" stroke-width="0.9"/>
<line x1="354.50" y1="335.1" x2="354.50" y2="331.6" stroke="#555" stroke-width="0.9"/>
<line x1="419.08" y1="335.1" x2="419.08" y2="331.6" stroke="#555" stroke-width="0.9"/>
<line x1="483.66" y1="335.1" x2="483.66" y2="331.6" stroke="#555" stroke-width="0.9"/>
<line x1="548.24" y1="335.1" x2="548.24" y2="331.6" stroke="#555" stroke-width="0.9"/>
<line x1="612.82" y1="335.1" x2="612.82" y2="331.6" stroke="#555" stroke-width="0.9"/>
<text x="31.6" y="346.3" font-size="8.8" fill="#333" text-anchor="middle" font-weight="normal" textLength="5.2" lengthAdjust="spacingAndGlyphs" >0</text>
<text x="96.18" y="346.3" font-size="8.8" fill="#333" text-anchor="middle" font-weight="normal" textLength="10.2" lengthAdjust="spacingAndGlyphs" >50</text>
<text x="160.76" y="346.3" font-size="8.8" fill="#333" text-anchor="middle" font-weight="normal" textLength="15.2" lengthAdjust="spacingAndGlyphs" >100</text>
<text x="225.34" y="346.3" font-size="8.8" fill="#333" text-anchor="middle" font-weight="normal" textLength="15.2" lengthAdjust="spacingAndGlyphs" >150</text>
<text x="289.92" y="346.3" font-size="8.8" fill="#333" text-anchor="middle" font-weight="normal" textLength="15.2" lengthAdjust="spacingAndGlyphs" >200</text>
<text x="354.50000000000006" y="346.3" font-size="8.8" fill="#333" text-anchor="middle" font-weight="normal" textLength="15.2" lengthAdjust="spacingAndGlyphs" >250</text>
<text x="419.08000000000004" y="346.3" font-size="8.8" fill="#333" text-anchor="middle" font-weight="normal" textLength="15.2" lengthAdjust="spacingAndGlyphs" >300</text>
<text x="483.66" y="346.3" font-size="8.8" fill="#333" text-anchor="middle" font-weight="normal" textLength="15.2" lengthAdjust="spacingAndGlyphs" >350</text>
<text x="548.24" y="346.3" font-size="8.8" fill="#333" text-anchor="middle" font-weight="normal" textLength="15.2" lengthAdjust="spacingAndGlyphs" >400</text>
<text x="612.82" y="346.3" font-size="8.8" fill="#333" text-anchor="middle" font-weight="normal" textLength="15.2" lengthAdjust="spacingAndGlyphs" >450</text>
<text x="677.4000000000001" y="346.3" font-size="8.8" fill="#333" text-anchor="middle" font-weight="normal" textLength="15.2" lengthAdjust="spacingAndGlyphs" >500</text>
<text x="333.5" y="363.3" font-size="11.4" fill="#222" text-anchor="start" font-weight="normal" textLength="42.5" lengthAdjust="spacingAndGlyphs" >Time (h)</text>
<g transform="translate(10,278.5) rotate(-90)"><text x="0" y="0" font-size="10.5" fill="#222" text-anchor="start" font-weight="normal" textLength="63.4" lengthAdjust="spacingAndGlyphs" >Voltage ( V)</text></g>
<text x="43.4" y="194.3" font-size="11.2" fill="#222" text-anchor="start" font-weight="normal" textLength="79.6" lengthAdjust="spacingAndGlyphs" >0.40 mg<tspan dy="2.5" font-size="7.4">Ru</tspan><tspan dy="-2.5"> cm</tspan><tspan dy="-4.2" font-size="7.4">-2</tspan></text>
<text x="43.8" y="214.7" font-size="11.2" fill="#222" text-anchor="start" font-weight="normal" >60 <tspan dy="-4.2" font-size="7.4">o</tspan><tspan dy="4.2">C</tspan></text>
<text x="43.4" y="298.6" font-size="11.2" fill="#222" text-anchor="start" font-weight="normal" textLength="43.6" lengthAdjust="spacingAndGlyphs" >1 A cm<tspan dy="-4.2" font-size="7.4">-2</tspan></text>
<text x="627.6" y="311.2" font-size="11.4" fill="#222" text-anchor="start" font-weight="normal" textLength="34" lengthAdjust="spacingAndGlyphs" >1.66 V</text>
<defs>
<linearGradient id="lpf" x1="0" y1="0" x2="1" y2="0">
<stop offset="0" stop-color="#b98ac6"/><stop offset="0.5" stop-color="#c288c0"/><stop offset="1" stop-color="#ca8ec0"/>
</linearGradient>
<linearGradient id="bolt" x1="0" y1="0" x2="0" y2="1">
<stop offset="0" stop-color="#d8a8cc"/><stop offset="0.35" stop-color="#f0dcec"/><stop offset="0.6" stop-color="#b8709e"/><stop offset="1" stop-color="#9a5a8a"/>
</linearGradient>
<linearGradient id="rod" x1="0" y1="0" x2="1" y2="0">
<stop offset="0" stop-color="#c07ab0"/><stop offset="1" stop-color="#803a78"/>
</linearGradient>
<linearGradient id="rff" x1="0" y1="0" x2="0.2" y2="1">
<stop offset="0" stop-color="#ffffff"/><stop offset="0.3" stop-color="#f8f7fd"/><stop offset="0.45" stop-color="#c9c4ec"/><stop offset="0.62" stop-color="#a29ada"/><stop offset="0.85" stop-color="#9890d6"/><stop offset="1" stop-color="#b29cd8"/>
</linearGradient>
<linearGradient id="rffdark" x1="0" y1="0" x2="1" y2="0">
<stop offset="0" stop-color="#4a3c8c" stop-opacity="0"/><stop offset="0.55" stop-color="#362a74" stop-opacity="0.9"/><stop offset="1" stop-color="#4a3c8c" stop-opacity="0"/>
</linearGradient>
<linearGradient id="rside" x1="0" y1="0" x2="1" y2="0">
<stop offset="0" stop-color="#b470a8"/><stop offset="0.55" stop-color="#d494c4"/><stop offset="1" stop-color="#c888b8"/>
</linearGradient>
<linearGradient id="tube" x1="0" y1="0" x2="0" y2="1">
<stop offset="0" stop-color="#e4f4fa"/><stop offset="1" stop-color="#b4dcee"/>
</linearGradient>
</defs>
<g id="illus">
<!-- ============ left plate ============ -->
<!-- left bolts -->
<rect x="292.6" y="200.4" width="5.4" height="6" rx="1" fill="url(#bolt)"/>
<rect x="285.2" y="209.6" width="12.2" height="7.6" rx="1.8" fill="url(#bolt)"/>
<rect x="285.2" y="209.6" width="3" height="7.6" rx="1.4" fill="#c890bc"/>
<rect x="289.6" y="219.6" width="7.8" height="5.4" rx="1" fill="url(#bolt)"/>
<rect x="287.2" y="220.6" width="2.8" height="3.4" fill="#bfe6f2"/>
<rect x="291.2" y="284.8" width="8.6" height="10.2" rx="2" fill="url(#bolt)"/>
<rect x="291.2" y="284.8" width="2.6" height="10.2" rx="1.2" fill="#c48cb8"/>
<!-- H2O inlet -->
<rect x="281.2" y="265.6" width="7.8" height="3.8" fill="url(#tube)"/>
<rect x="288.8" y="264.4" width="4.6" height="6" fill="#b06a98"/>
<rect x="293" y="261.2" width="6.6" height="9.6" rx="1.2" fill="url(#bolt)"/>
<!-- vertical rod -->
<rect x="305.3" y="183.4" width="3.4" height="20.5" fill="url(#rod)"/>
<rect x="305.3" y="183.2" width="3.4" height="1.6" fill="#ecdcea"/>
<!-- top face of plate -->
<polygon points="297.6,207 300.3,199 305.3,198 308.8,204 309.6,207" fill="#a4b2ea"/>
<polygon points="305.3,198 308.8,204 308.8,198.5" fill="#7c6cb0"/>
<!-- front face -->
<polygon points="297.6,207 309.3,207 310.8,297 300,297" fill="url(#lpf)"/>
<rect x="297.1" y="207" width="12.4" height="1.2" fill="#f0e4f2"/>
<polygon points="297.2,211.2 309.6,211.2 309.7,214.6 297.3,214.6" fill="#c05878" opacity="0.75"/>
<!-- right edge strip -->
<polygon points="309.3,205.5 312,207 312.8,296.5 310.8,297" fill="#d6daf4"/>
<line x1="311.4" y1="208" x2="312.4" y2="296" stroke="#5868a8" stroke-width="0.6" opacity="0.8"/>
<!-- right rods -->
<rect x="308.8" y="202.2" width="8.6" height="2.8" fill="#4a2c6c"/>
<rect x="309.6" y="211.6" width="9" height="3.2" fill="#b06898"/>
<rect x="311.2" y="261.6" width="8.8" height="2.8" fill="#7a3c7c"/>
<rect x="311.2" y="287.2" width="10.6" height="6.2" fill="url(#bolt)"/>
<!-- labels -->
<text x="262.6" y="228.2" font-size="9.3" fill="#111" textLength="9.6" lengthAdjust="spacingAndGlyphs">O<tspan dy="1.8" font-size="6">2</tspan></text>
<path d="M280,224.4 L275.5,224.4" stroke="#111" stroke-width="1.6"/>
<path d="M272.6,224.4 L277.2,222 L277.2,226.8 Z" fill="#111"/>
<text x="255.6" y="271.2" font-size="9.3" fill="#111" textLength="15.4" lengthAdjust="spacingAndGlyphs">H<tspan dy="1.8" font-size="6">2</tspan><tspan dy="-1.8">O</tspan></text>
<path d="M272.2,268.2 L276.5,268.2" stroke="#111" stroke-width="1.6"/>
<path d="M279.6,268.2 L275.2,265.9 L275.2,270.5 Z" fill="#111"/>
<!-- ============ middle ============ -->
<!-- thin dark pink sheet -->
<polygon points="324.2,217 325.8,217.6 328.3,271 326.7,270.4" fill="#8a4c7c"/>
<!-- left white sheet -->
<polygon points="331.6,197 338.8,201 339.3,258 342,296.5 335,258.5" fill="#fdfdff" stroke="#e2def0" stroke-width="0.7"/>
<line x1="333.2" y1="200" x2="336" y2="258" stroke="#ecebf5" stroke-width="0.5"/>
<!-- membrane -->
<polygon points="347,217.4 353,224.6 353.4,270.6 347.3,255.6" fill="#2c3436"/>
<polygon points="353,224.6 354.9,226 355,271.2 353.4,270.6" fill="#28b0b4"/>
<!-- right white sheet -->
<polygon points="357.2,197 364.8,200.5 366,256 370,289 359.8,256.5" fill="#fdfdff" stroke="#e2def0" stroke-width="0.7"/>
<line x1="362" y1="201" x2="363.5" y2="255" stroke="#ecebf5" stroke-width="0.5"/>
<!-- brackets -->
<path d="M341.5,194.6 L341.5,223.5 L346.6,223.5" fill="none" stroke="#2a2a2a" stroke-width="0.8"/>
<path d="M361.5,194.6 L361.5,223.5 L357.8,223.5" fill="none" stroke="#2a2a2a" stroke-width="0.8"/>
<text x="313.8" y="192.6" font-size="7.4" fill="#111" textLength="38" lengthAdjust="spacingAndGlyphs">Ru<tspan dy="1.8" font-size="5">0.2</tspan><tspan dy="-1.8">Ti</tspan><tspan dy="1.8" font-size="5">0.8</tspan><tspan dy="-1.8">O</tspan><tspan dy="1.8" font-size="5">2</tspan></text>
<text x="357.8" y="192.6" font-size="7.4" fill="#111" textLength="13.6" lengthAdjust="spacingAndGlyphs">Pt/C</text>
<!-- ============ right plate ============ -->
<!-- tab side -->
<polygon points="392,184.4 395.8,185.6 396.4,206.4 392,206" fill="#b4609e"/>
<!-- top face of main side -->
<polygon points="394.2,201.3 401.9,202.4 406.8,205.7 406.8,208 396.4,206.8" fill="#98a2e2"/>
<!-- main side -->
<polygon points="396.4,206.6 406.8,207.6 406.4,292.7 394.6,293.8" fill="url(#rside)"/>
<rect x="396.4" y="208" width="10.4" height="1.5" fill="#e4b4d8" opacity="0.8"/>
<!-- front face -->
<polygon points="374.8,196.4 384.7,196.4 387.1,184.4 392,184.4 392,206 396.4,206.6 394.6,293.8 390.8,293.8 375.7,268" fill="url(#rff)"/>
<polygon points="385.5,214 394.5,212 394.5,266 386,268" fill="url(#rffdark)"/>
<polygon points="374.8,198 376.6,199 377.4,268 375.7,268" fill="#9a96d8" opacity="0.8"/>
<g stroke="#44347e" stroke-width="2.1" opacity="0.9" stroke-linecap="round">
<path d="M378.8,219 L386.8,225"/>
<path d="M378.8,224.4 L386.8,230.4"/>
<path d="M378.8,229.8 L386.8,235.8"/>
<path d="M378.8,235.2 L386.8,241.2"/>
<path d="M378.8,240.6 L386.8,246.6"/>
<path d="M378.8,246 L386.8,252"/>
<path d="M378.8,251.4 L386.8,257.4"/>
</g>
<ellipse cx="389.6" cy="190.9" rx="0.8" ry="2" fill="#2a2a3a"/>
<ellipse cx="394" cy="212.2" rx="0.8" ry="2" fill="#2a2a3a"/>
<ellipse cx="375.7" cy="201.3" rx="0.6" ry="1.6" fill="#444"/>
<ellipse cx="392.2" cy="286.5" rx="0.7" ry="1.6" fill="#2a2a3a"/>
<!-- H2 outlet -->
<rect x="406.4" y="224.9" width="9.4" height="3.8" fill="url(#tube)"/>
<path d="M417,227 L421.2,227" stroke="#111" stroke-width="1.6"/>
<path d="M424.2,227 L420,224.7 L420,229.3 Z" fill="#111"/>
<text x="426.4" y="230.4" font-size="9" fill="#111" textLength="9" lengthAdjust="spacingAndGlyphs">H<tspan dy="1.8" font-size="6">2</tspan></text>
</g>

</svg>
</body></html>
